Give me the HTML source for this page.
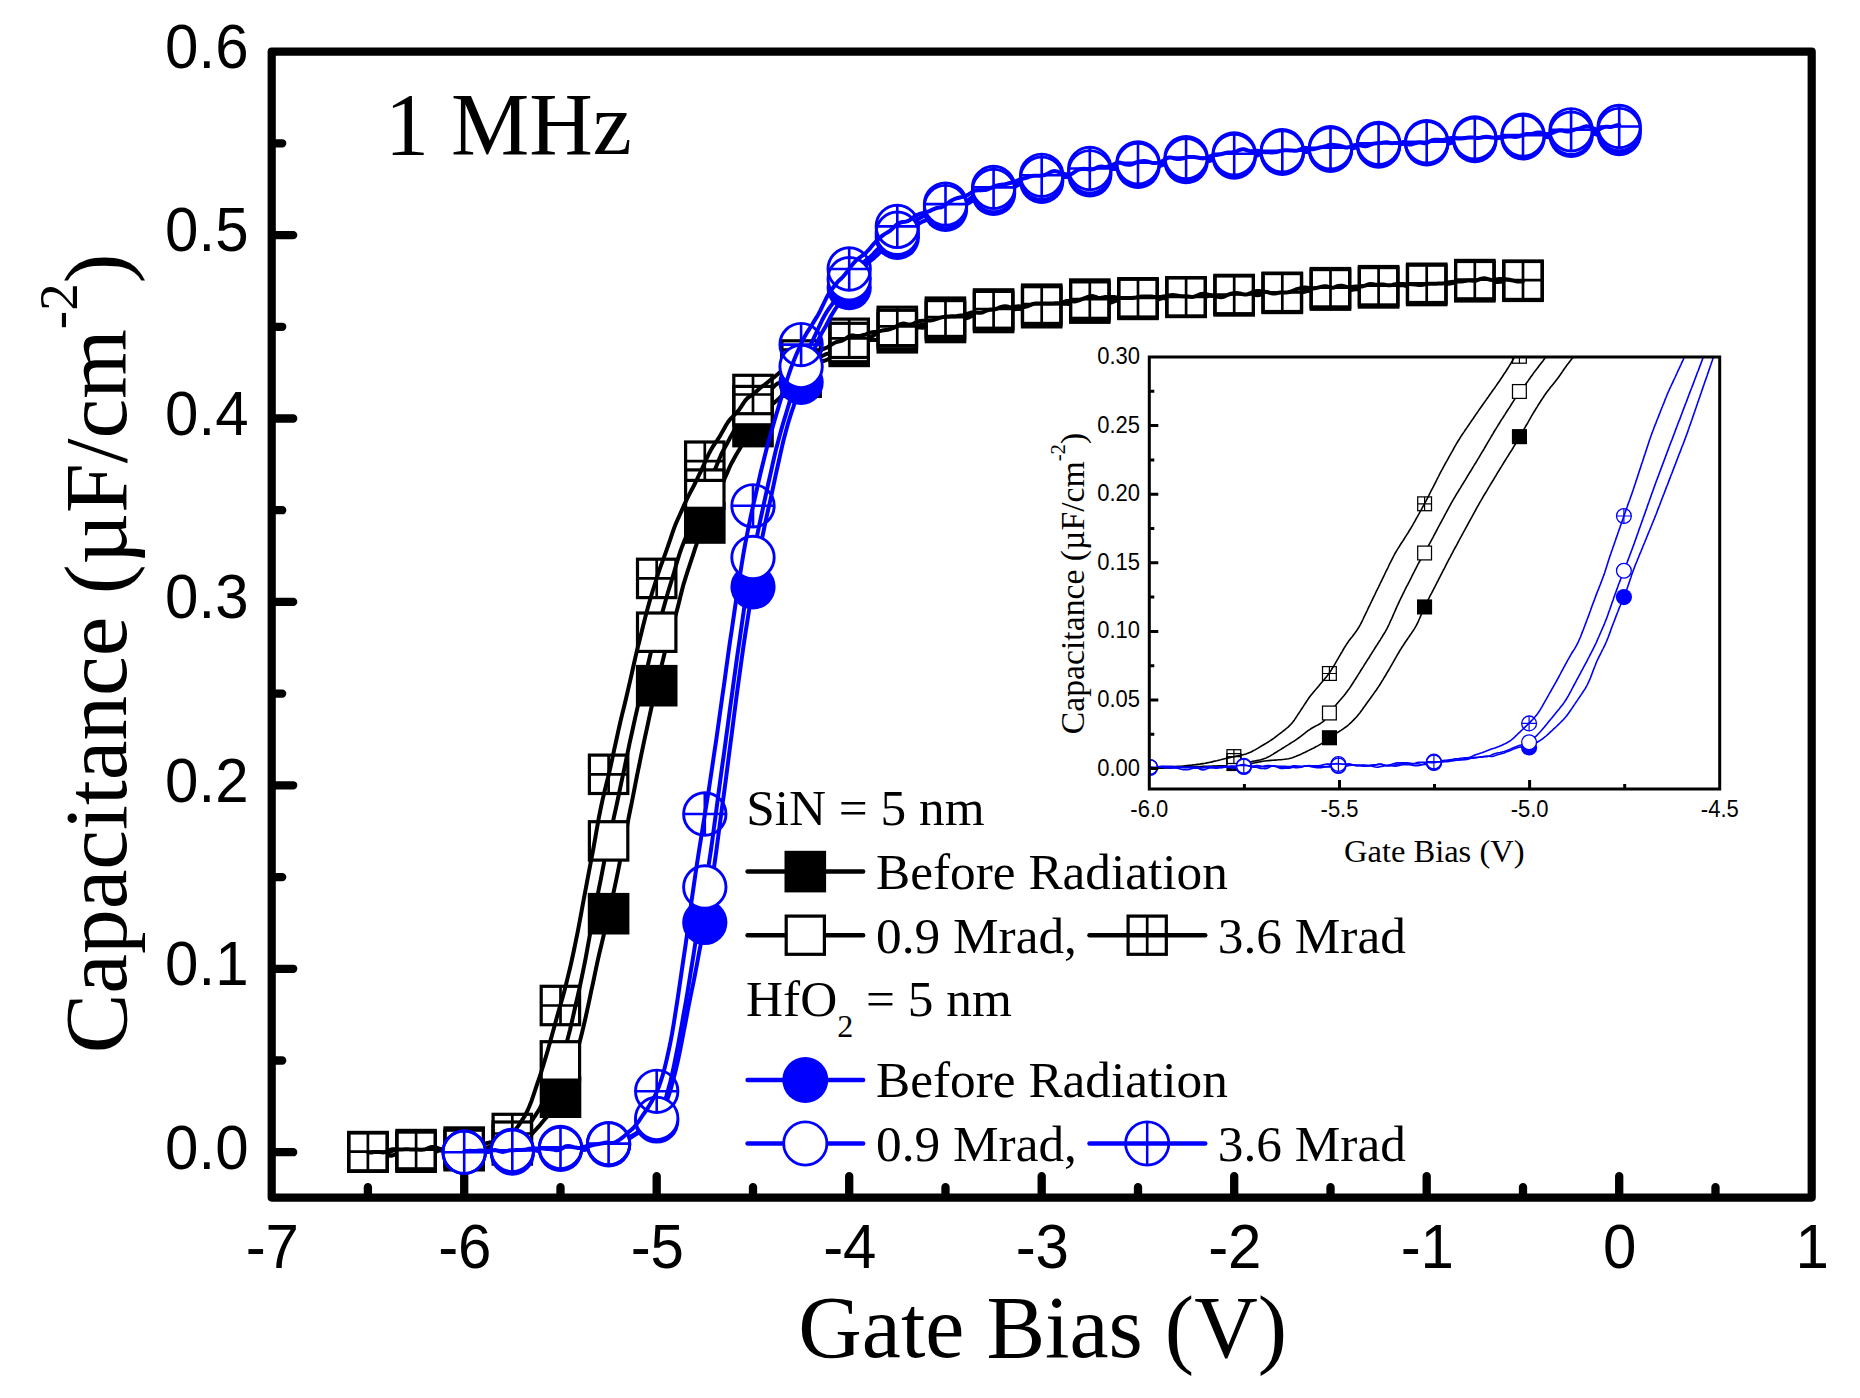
<!DOCTYPE html><html><head><meta charset="utf-8"><style>html,body{margin:0;padding:0;background:#fff;overflow:hidden}svg{display:block}.sans{font-family:"Liberation Sans",Arial,sans-serif}.serif{font-family:"Liberation Serif","Times New Roman",serif}</style></head><body>
<svg width="1860" height="1398" viewBox="0 0 1860 1398">
<rect width="1860" height="1398" fill="#fff"/>
<rect x="271.7" y="51.6" width="1540" height="1146" fill="none" stroke="#000" stroke-width="8.2" stroke-linejoin="round"/>
<path d="M464.2 1195V1176.1M656.7 1195V1176.1M849.2 1195V1176.1M1041.7 1195V1176.1M1234.2 1195V1176.1M1426.7 1195V1176.1M1619.2 1195V1176.1M367.9 1195V1187.1M560.5 1195V1187.1M753 1195V1187.1M945.5 1195V1187.1M1138 1195V1187.1M1330.5 1195V1187.1M1523 1195V1187.1M1715.5 1195V1187.1M274 1152.2H293.2M274 968.8H293.2M274 785.3H293.2M274 601.9H293.2M274 418.5H293.2M274 235.1H293.2M274 1060.5H282.2M274 877.1H282.2M274 693.6H282.2M274 510.2H282.2M274 326.8H282.2M274 143.3H282.2" stroke="#000" stroke-width="8.3" stroke-linecap="round"/>
<defs><clipPath id="cm"><rect x="271.7" y="51.6" width="1540" height="1146"/></clipPath><clipPath id="ci"><rect x="1149.3" y="357" width="570.4" height="432"/></clipPath></defs>
<g clip-path="url(#cm)">
<path d="M367.9 1151.3 L369.9 1151.8 L371.8 1152 L373.7 1152 L375.6 1151.9 L377.6 1151.7 L379.5 1151.7 L381.4 1151.8 L383.3 1152.1 L385.3 1152.4 L387.2 1152.6 L389.1 1152.3 L391 1151.5 L393 1150.5 L394.9 1149.8 L396.8 1149.5 L398.7 1149.8 L400.7 1150.4 L402.6 1150.9 L404.5 1151.1 L406.4 1151.1 L408.4 1150.8 L410.3 1150.5 L412.2 1150.2 L414.1 1150.1 L416.1 1150.1 L418 1150.2 L419.9 1150.4 L421.8 1150.9 L423.8 1151.8 L425.7 1152.8 L427.6 1153.7 L429.5 1154.1 L431.5 1154 L433.4 1153.3 L435.3 1152.3 L437.2 1151.2 L439.2 1150.5 L441.1 1150.4 L443 1150.8 L444.9 1151.6 L446.9 1152.3 L448.8 1152.6 L450.7 1152.4 L452.6 1152 L454.6 1151.5 L456.5 1151.3 L458.4 1151.3 L460.3 1151.5 L462.3 1151.7 L464.2 1151.9 L466.1 1152 L468 1152.1 L470 1152.2 L471.9 1152.1 L473.8 1151.6 L475.7 1151 L477.7 1150.3 L479.6 1149.8 L481.5 1149.3 L483.4 1149.1 L485.4 1149 L487.3 1148.9 L489.2 1148.8 L491.1 1148.5 L493.1 1147.8 L495 1146.8 L496.9 1145.6 L498.8 1144.6 L500.8 1144.2 L502.7 1144.2 L504.6 1144.4 L506.5 1144.6 L508.5 1144.7 L510.4 1144.7 L512.3 1144.6 L514.2 1144.4 L516.2 1144.1 L518.1 1143.7 L520 1143 L521.9 1141.9 L523.9 1140.5 L525.8 1139.1 L527.7 1137.7 L529.6 1136.2 L531.6 1134.3 L533.5 1132.2 L535.4 1130.1 L537.3 1128 L539.3 1125.9 L541.2 1123.6 L543.1 1121.3 L545 1119 L547 1116.8 L548.9 1114.5 L550.8 1112.1 L552.7 1109.5 L554.7 1106.7 L556.6 1103.6 L558.5 1100.4 L560.4 1097 L562.4 1093.2 L564.3 1088.9 L566.2 1084.4 L568.1 1079.6 L570.1 1074.4 L572 1068.6 L573.9 1062.2 L575.8 1055.5 L577.8 1048.7 L579.7 1041.8 L581.6 1034.4 L583.5 1026.5 L585.5 1018 L587.4 1009.2 L589.3 1000.3 L591.2 991.2 L593.2 982.1 L595.1 972.9 L597 963.9 L598.9 955.3 L600.9 947 L602.8 939 L604.7 930.9 L606.6 922.7 L608.6 914.6 L610.5 906.3 L612.4 897.8 L614.3 888.9 L616.3 879.7 L618.2 870.3 L620.1 860.7 L622 851.1 L624 841.5 L625.9 831.9 L627.8 822.2 L629.7 812.5 L631.7 802.8 L633.6 793.1 L635.5 783.4 L637.4 773.7 L639.4 764.1 L641.3 754.7 L643.2 745.7 L645.1 736.7 L647.1 727.6 L649 718.7 L650.9 710 L652.8 701.6 L654.8 693.5 L656.7 685.6 L658.6 677.6 L660.5 669.7 L662.5 661.7 L664.4 654 L666.3 646.7 L668.2 639.9 L670.2 633.6 L672.1 627.5 L674 621.1 L675.9 614.2 L677.9 606.7 L679.8 599 L681.7 591.3 L683.6 584.1 L685.6 577.6 L687.5 571.6 L689.4 565.9 L691.3 560.1 L693.3 554.1 L695.2 548.2 L697.1 542.6 L699 537.6 L701 532.9 L702.9 528.5 L704.8 524.1 L706.7 519.6 L708.7 514.7 L710.6 509.6 L712.5 504.5 L714.4 499.7 L716.4 495.4 L718.3 491.4 L720.2 487.6 L722.1 483.8 L724.1 479.8 L726 475.5 L727.9 471.1 L729.8 466.7 L731.8 462.7 L733.7 459.2 L735.6 455.8 L737.5 452.6 L739.5 449.2 L741.4 445.8 L743.3 442.4 L745.2 439 L747.2 435.7 L749.1 432.4 L751 429.2 L752.9 426.4 L754.9 423.9 L756.8 421.7 L758.7 419.5 L760.6 417 L762.6 414.4 L764.5 411.8 L766.4 409.5 L768.3 407.7 L770.3 406.1 L772.2 404.5 L774.1 402.8 L776 401.2 L778 399.5 L779.9 397.7 L781.8 395.4 L783.7 393 L785.7 390.5 L787.6 388.5 L789.5 387.1 L791.4 386.2 L793.4 385.5 L795.3 384.6 L797.2 383.4 L799.1 382.1 L801.1 380.7 L803 379.1 L804.9 377.3 L806.8 375.2 L808.8 372.8 L810.7 370.3 L812.6 367.9 L814.5 365.9 L816.5 364.3 L818.4 363 L820.3 362 L822.2 361.3 L824.2 360.8 L826.1 360.2 L828 359.3 L829.9 358.2 L831.9 356.8 L833.8 355.6 L835.7 354.4 L837.6 353.1 L839.6 351.8 L841.5 350.4 L843.4 349.1 L845.3 348.1 L847.3 347.3 L849.2 346.8 L851.1 346.5 L853 346.1 L855 345.6 L856.9 344.7 L858.8 343.5 L860.7 342.3 L862.7 341.2 L864.6 340.5 L866.5 340 L868.4 339.9 L870.4 339.8 L872.3 339.9 L874.2 340 L876.1 339.9 L878.1 339.6 L880 339 L881.9 338.3 L883.8 337.7 L885.8 336.9 L887.7 335.8 L889.6 334.4 L891.5 333 L893.5 331.8 L895.4 331.1 L897.3 330.9 L899.2 331.1 L901.2 331.3 L903.1 331.3 L905 330.9 L906.9 330.2 L908.9 329.5 L910.8 328.9 L912.7 328.4 L914.6 328 L916.6 327.6 L918.5 327.5 L920.4 327.6 L922.3 327.7 L924.3 327.6 L926.2 327.1 L928.1 326.3 L930 325.3 L932 324.2 L933.9 323.3 L935.8 322.5 L937.7 322 L939.7 321.9 L941.6 322.2 L943.5 322.7 L945.4 323 L947.4 323 L949.3 322.3 L951.2 321.2 L953.1 320 L955.1 319.2 L957 319.1 L958.9 319.3 L960.8 319.5 L962.8 319.3 L964.7 318.8 L966.6 318.2 L968.5 317.6 L970.5 316.7 L972.4 315.8 L974.3 314.9 L976.2 314.3 L978.2 313.9 L980.1 313.6 L982 313.3 L983.9 313.1 L985.9 313.2 L987.8 313.5 L989.7 313.5 L991.6 312.9 L993.6 311.9 L995.5 310.9 L997.4 310.2 L999.3 310.1 L1001.3 310.3 L1003.2 310.6 L1005.1 310.9 L1007 311.1 L1009 310.9 L1010.9 310.3 L1012.8 309.4 L1014.7 308.7 L1016.7 308.4 L1018.6 308.7 L1020.5 309.1 L1022.4 309.5 L1024.4 309.5 L1026.3 309.3 L1028.2 309 L1030.1 308.8 L1032.1 308.8 L1034 308.8 L1035.9 308.9 L1037.8 309 L1039.8 309 L1041.7 308.9 L1043.6 308.5 L1045.5 308 L1047.5 307.5 L1049.4 307.1 L1051.3 306.8 L1053.2 306.4 L1055.2 305.8 L1057.1 305 L1059 304.3 L1060.9 303.8 L1062.9 303.4 L1064.8 303.2 L1066.7 303 L1068.6 302.9 L1070.6 303 L1072.5 303.2 L1074.4 303.3 L1076.3 303.2 L1078.3 302.8 L1080.2 302.4 L1082.1 302 L1084 302 L1086 302.5 L1087.9 303.5 L1089.8 304.3 L1091.7 304.6 L1093.7 304.3 L1095.6 303.6 L1097.5 303.1 L1099.4 302.9 L1101.4 302.9 L1103.3 302.9 L1105.2 302.9 L1107.1 302.9 L1109.1 302.9 L1111 302.6 L1112.9 301.9 L1114.8 301.1 L1116.8 300.5 L1118.7 300.4 L1120.6 300.7 L1122.5 301.3 L1124.5 301.7 L1126.4 301.7 L1128.3 301.4 L1130.2 300.9 L1132.2 300.4 L1134.1 300.1 L1136 299.8 L1137.9 299.3 L1139.9 298.6 L1141.8 297.9 L1143.7 297.4 L1145.6 297.2 L1147.6 297.6 L1149.5 298.3 L1151.4 299.1 L1153.3 299.7 L1155.3 299.9 L1157.2 299.7 L1159.1 299.2 L1161 298.6 L1163 298 L1164.9 297.6 L1166.8 297.5 L1168.7 297.7 L1170.7 298.3 L1172.6 299.2 L1174.5 299.8 L1176.4 300.1 L1178.4 300 L1180.3 299.4 L1182.2 298.8 L1184.1 298.2 L1186.1 297.9 L1188 297.8 L1189.9 297.9 L1191.8 298.1 L1193.8 298.2 L1195.7 298.1 L1197.6 298 L1199.5 297.9 L1201.5 297.7 L1203.4 297.4 L1205.3 297 L1207.2 296.4 L1209.2 295.8 L1211.1 295.5 L1213 295.5 L1214.9 295.7 L1216.9 296 L1218.8 296 L1220.7 295.9 L1222.6 296 L1224.6 296.3 L1226.5 296.5 L1228.4 296.5 L1230.3 296 L1232.3 295.3 L1234.2 294.7 L1236.1 294.3 L1238 294.4 L1240 294.7 L1241.9 295.2 L1243.8 295.4 L1245.7 295.3 L1247.7 294.9 L1249.6 294.5 L1251.5 294.5 L1253.4 294.8 L1255.4 295.1 L1257.3 295.2 L1259.2 295 L1261.1 294.6 L1263.1 294.4 L1265 294.3 L1266.9 294.3 L1268.8 294.4 L1270.8 294.4 L1272.7 294.4 L1274.6 294.4 L1276.5 294.3 L1278.5 294.1 L1280.4 293.9 L1282.3 293.7 L1284.2 293.5 L1286.2 293.2 L1288.1 293 L1290 292.8 L1291.9 292.7 L1293.9 292.7 L1295.8 292.6 L1297.7 292.6 L1299.6 292.6 L1301.6 292.4 L1303.5 292.1 L1305.4 291.6 L1307.3 291.1 L1309.3 290.6 L1311.2 290.3 L1313.1 290.3 L1315 290.5 L1317 290.9 L1318.9 291.1 L1320.8 290.8 L1322.7 290.1 L1324.7 289.3 L1326.6 288.8 L1328.5 288.7 L1330.4 288.8 L1332.4 289 L1334.3 288.9 L1336.2 288.8 L1338.1 288.7 L1340.1 289 L1342 289.6 L1343.9 290.1 L1345.8 290.2 L1347.8 290.2 L1349.7 290 L1351.6 289.9 L1353.5 289.6 L1355.5 289.3 L1357.4 289.3 L1359.3 289.6 L1361.2 290 L1363.2 290.3 L1365.1 290 L1367 289.4 L1368.9 288.7 L1370.9 288.4 L1372.8 288.4 L1374.7 288.6 L1376.6 288.8 L1378.6 288.6 L1380.5 288.1 L1382.4 287.1 L1384.3 286 L1386.3 285.2 L1388.2 284.7 L1390.1 284.8 L1392 285.1 L1394 285.5 L1395.9 285.7 L1397.8 285.5 L1399.7 285.3 L1401.7 285.1 L1403.6 285.3 L1405.5 285.6 L1407.4 285.9 L1409.4 286.1 L1411.3 286.3 L1413.2 286.4 L1415.1 286.4 L1417.1 286.3 L1419 286.2 L1420.9 286.1 L1422.8 285.9 L1424.8 285.7 L1426.7 285.7 L1428.6 286 L1430.5 286.2 L1432.5 286.1 L1434.4 285.6 L1436.3 284.9 L1438.2 284.3 L1440.2 283.9 L1442.1 283.8 L1444 283.8 L1445.9 283.8 L1447.9 283.8 L1449.8 283.6 L1451.7 283.2 L1453.6 282.8 L1455.6 282.8 L1457.5 283.2 L1459.4 284.1 L1461.3 284.9 L1463.3 285.2 L1465.2 284.9 L1467.1 284.1 L1469 283.2 L1471 282.6 L1472.9 282.4 L1474.8 282.7 L1476.7 283.1 L1478.7 283.3 L1480.6 283.3 L1482.5 283.2 L1484.4 282.9 L1486.4 282.6 L1488.3 282.2 L1490.2 281.8 L1492.1 281.7 L1494.1 281.8 L1496 281.9 L1497.9 282 L1499.8 281.8 L1501.8 281.7 L1503.7 281.6 L1505.6 281.7 L1507.5 281.9 L1509.5 282.3 L1511.4 282.7 L1513.3 283.2 L1515.2 283.6 L1517.2 283.8 L1519.1 283.7 L1521 283.3 L1522.9 282.7" fill="none" stroke="#000" stroke-width="4" stroke-linejoin="round" stroke-linecap="round"/>
<rect x="347.1" y="1131.4" width="41.6" height="41.6" fill="#000"/>
<rect x="395.3" y="1131.4" width="41.6" height="41.6" fill="#000"/>
<rect x="443.4" y="1129.9" width="41.6" height="41.6" fill="#000"/>
<rect x="491.5" y="1124.1" width="41.6" height="41.6" fill="#000"/>
<rect x="539.7" y="1076.4" width="41.6" height="41.6" fill="#000"/>
<rect x="587.8" y="892.9" width="41.6" height="41.6" fill="#000"/>
<rect x="635.9" y="664.9" width="41.6" height="41.6" fill="#000"/>
<rect x="684" y="502.2" width="41.6" height="41.6" fill="#000"/>
<rect x="732.2" y="405.8" width="41.6" height="41.6" fill="#000"/>
<rect x="780.3" y="356.4" width="41.6" height="41.6" fill="#000"/>
<rect x="828.4" y="325.6" width="41.6" height="41.6" fill="#000"/>
<rect x="876.5" y="312" width="41.6" height="41.6" fill="#000"/>
<rect x="924.7" y="301.7" width="41.6" height="41.6" fill="#000"/>
<rect x="972.8" y="291.7" width="41.6" height="41.6" fill="#000"/>
<rect x="1020.9" y="286.9" width="41.6" height="41.6" fill="#000"/>
<rect x="1069" y="282.3" width="41.6" height="41.6" fill="#000"/>
<rect x="1117.2" y="278.6" width="41.6" height="41.6" fill="#000"/>
<rect x="1165.3" y="276.6" width="41.6" height="41.6" fill="#000"/>
<rect x="1213.4" y="275.1" width="41.6" height="41.6" fill="#000"/>
<rect x="1261.5" y="272.6" width="41.6" height="41.6" fill="#000"/>
<rect x="1309.7" y="269.3" width="41.6" height="41.6" fill="#000"/>
<rect x="1357.8" y="267.1" width="41.6" height="41.6" fill="#000"/>
<rect x="1405.9" y="264.7" width="41.6" height="41.6" fill="#000"/>
<rect x="1454" y="261" width="41.6" height="41.6" fill="#000"/>
<rect x="1502.2" y="260.5" width="41.6" height="41.6" fill="#000"/>
<path d="M367.9 1152.5 L369.9 1152.9 L371.8 1153.3 L373.7 1153.5 L375.6 1153.3 L377.6 1152.9 L379.5 1152.5 L381.4 1152.4 L383.3 1152.7 L385.3 1153.5 L387.2 1154.5 L389.1 1155.4 L391 1155.7 L393 1155.3 L394.9 1154.5 L396.8 1153.6 L398.7 1152.6 L400.7 1151.7 L402.6 1150.7 L404.5 1149.8 L406.4 1149.3 L408.4 1149.4 L410.3 1149.9 L412.2 1150.7 L414.1 1151.2 L416.1 1151.2 L418 1150.9 L419.9 1150.5 L421.8 1150.2 L423.8 1150.1 L425.7 1149.9 L427.6 1149.6 L429.5 1149.4 L431.5 1149.4 L433.4 1149.6 L435.3 1149.7 L437.2 1149.6 L439.2 1149.4 L441.1 1149.2 L443 1148.9 L444.9 1148.8 L446.9 1149 L448.8 1149.6 L450.7 1150.3 L452.6 1150.8 L454.6 1151 L456.5 1150.9 L458.4 1150.8 L460.3 1150.7 L462.3 1150.6 L464.2 1150.4 L466.1 1150.1 L468 1149.7 L470 1149.4 L471.9 1149.2 L473.8 1149 L475.7 1148.7 L477.7 1148.3 L479.6 1148.1 L481.5 1148 L483.4 1148 L485.4 1147.9 L487.3 1147.5 L489.2 1146.8 L491.1 1146 L493.1 1145.2 L495 1144.5 L496.9 1144 L498.8 1143.5 L500.8 1142.8 L502.7 1142.1 L504.6 1141.6 L506.5 1141.4 L508.5 1141.5 L510.4 1141.7 L512.3 1141.5 L514.2 1140.9 L516.2 1139.9 L518.1 1138.5 L520 1136.9 L521.9 1134.8 L523.9 1132.3 L525.8 1129.4 L527.7 1126.6 L529.6 1123.9 L531.6 1121.1 L533.5 1118.2 L535.4 1115.3 L537.3 1112.4 L539.3 1109.3 L541.2 1105.7 L543.1 1101.5 L545 1096.9 L547 1092.1 L548.9 1087.6 L550.8 1083.1 L552.7 1078.7 L554.7 1074 L556.6 1069.1 L558.5 1064.1 L560.4 1059.5 L562.4 1054.9 L564.3 1049.9 L566.2 1044 L568.1 1037.2 L570.1 1029.5 L572 1021.3 L573.9 1012.8 L575.8 1004.2 L577.8 995.7 L579.7 987.1 L581.6 978.2 L583.5 968.9 L585.5 959 L587.4 948.6 L589.3 938.1 L591.2 927.6 L593.2 917.3 L595.1 907.5 L597 898.1 L598.9 888.6 L600.9 878.8 L602.8 868.8 L604.7 859.1 L606.6 849.8 L608.6 841.1 L610.5 832.7 L612.4 824.1 L614.3 815.4 L616.3 806.5 L618.2 797.5 L620.1 788.4 L622 779.3 L624 770.2 L625.9 761 L627.8 751.8 L629.7 742.7 L631.7 733.7 L633.6 725 L635.5 716.4 L637.4 708.1 L639.4 699.9 L641.3 692.1 L643.2 684.5 L645.1 676.6 L647.1 668.5 L649 660.3 L650.9 652.3 L652.8 645 L654.8 638.3 L656.7 631.9 L658.6 625.5 L660.5 618.8 L662.5 611.9 L664.4 605 L666.3 598.2 L668.2 591.5 L670.2 585.2 L672.1 578.9 L674 572.5 L675.9 565.8 L677.9 559.1 L679.8 553 L681.7 547.7 L683.6 542.7 L685.6 537.7 L687.5 532.6 L689.4 527.6 L691.3 522.7 L693.3 517.9 L695.2 513.1 L697.1 508.2 L699 503.3 L701 498.4 L702.9 493.8 L704.8 489.5 L706.7 485.5 L708.7 481.8 L710.6 478.3 L712.5 474.7 L714.4 470.6 L716.4 466.1 L718.3 461.3 L720.2 456.8 L722.1 452.6 L724.1 448.9 L726 445.5 L727.9 442 L729.8 438.3 L731.8 434.7 L733.7 431.3 L735.6 428.3 L737.5 425.4 L739.5 422.3 L741.4 419.1 L743.3 416.1 L745.2 413.6 L747.2 411.7 L749.1 410.2 L751 408.7 L752.9 406.9 L754.9 404.7 L756.8 402.1 L758.7 399.4 L760.6 397 L762.6 395.2 L764.5 394 L766.4 392.9 L768.3 391.7 L770.3 390.2 L772.2 388.4 L774.1 386.4 L776 384.6 L778 383.3 L779.9 382.7 L781.8 382.4 L783.7 381.9 L785.7 381.1 L787.6 379.7 L789.5 377.8 L791.4 375.8 L793.4 373.8 L795.3 372.2 L797.2 371 L799.1 370.3 L801.1 369.5 L803 368.5 L804.9 367.1 L806.8 365.6 L808.8 364.1 L810.7 362.8 L812.6 361.5 L814.5 360.4 L816.5 359.3 L818.4 358.2 L820.3 357 L822.2 355.9 L824.2 355 L826.1 354.2 L828 353.6 L829.9 353 L831.9 352.3 L833.8 351.6 L835.7 350.6 L837.6 349.3 L839.6 347.9 L841.5 346.5 L843.4 345.2 L845.3 344 L847.3 342.7 L849.2 341.6 L851.1 341.1 L853 341.1 L855 341.5 L856.9 341.8 L858.8 341.6 L860.7 341 L862.7 340.2 L864.6 339.4 L866.5 338.7 L868.4 338.1 L870.4 337.3 L872.3 336.3 L874.2 335.1 L876.1 333.8 L878.1 332.7 L880 332.1 L881.9 332.2 L883.8 332.7 L885.8 333.2 L887.7 333.1 L889.6 332.3 L891.5 331.2 L893.5 330.2 L895.4 329.4 L897.3 328.7 L899.2 328 L901.2 327.6 L903.1 327.4 L905 327.3 L906.9 327.1 L908.9 326.6 L910.8 326.2 L912.7 325.9 L914.6 325.8 L916.6 325.7 L918.5 325.4 L920.4 325.1 L922.3 324.8 L924.3 324.7 L926.2 324.5 L928.1 324.2 L930 324 L932 324 L933.9 324.1 L935.8 324.2 L937.7 324 L939.7 323.5 L941.6 322.7 L943.5 321.8 L945.4 320.8 L947.4 319.9 L949.3 319.1 L951.2 318.4 L953.1 317.4 L955.1 316.5 L957 315.7 L958.9 315.4 L960.8 315.5 L962.8 315.8 L964.7 315.9 L966.6 315.9 L968.5 315.8 L970.5 315.5 L972.4 315 L974.3 314.3 L976.2 313.7 L978.2 313.1 L980.1 312.4 L982 311.8 L983.9 311.2 L985.9 310.7 L987.8 310.4 L989.7 310.1 L991.6 309.8 L993.6 309.4 L995.5 309.1 L997.4 308.8 L999.3 308.9 L1001.3 309.1 L1003.2 309.2 L1005.1 309.2 L1007 309.1 L1009 309 L1010.9 309 L1012.8 309.1 L1014.7 309.2 L1016.7 309 L1018.6 308.5 L1020.5 307.6 L1022.4 306.4 L1024.4 305.3 L1026.3 304.6 L1028.2 304.7 L1030.1 305.5 L1032.1 306.7 L1034 307.5 L1035.9 307.7 L1037.8 307.3 L1039.8 306.6 L1041.7 306 L1043.6 305.7 L1045.5 305.7 L1047.5 305.9 L1049.4 306 L1051.3 305.7 L1053.2 305.1 L1055.2 304.5 L1057.1 304 L1059 303.7 L1060.9 303.6 L1062.9 303.6 L1064.8 303.7 L1066.7 303.8 L1068.6 303.9 L1070.6 303.9 L1072.5 303.8 L1074.4 303.7 L1076.3 303.9 L1078.3 304.1 L1080.2 304.4 L1082.1 304.4 L1084 304.2 L1086 303.8 L1087.9 303.5 L1089.8 303.1 L1091.7 302.5 L1093.7 301.4 L1095.6 300.3 L1097.5 299.6 L1099.4 299.4 L1101.4 299.4 L1103.3 299.3 L1105.2 299.2 L1107.1 299.2 L1109.1 299.1 L1111 299 L1112.9 298.8 L1114.8 298.7 L1116.8 298.5 L1118.7 298.5 L1120.6 298.5 L1122.5 298.6 L1124.5 298.8 L1126.4 298.8 L1128.3 298.8 L1130.2 298.6 L1132.2 298.2 L1134.1 297.7 L1136 297 L1137.9 296.2 L1139.9 295.6 L1141.8 295.5 L1143.7 296 L1145.6 296.6 L1147.6 297.1 L1149.5 297.5 L1151.4 297.7 L1153.3 297.9 L1155.3 297.7 L1157.2 297.3 L1159.1 297.1 L1161 297.3 L1163 297.9 L1164.9 298.4 L1166.8 298.5 L1168.7 298.2 L1170.7 297.7 L1172.6 297.1 L1174.5 296.4 L1176.4 295.9 L1178.4 295.7 L1180.3 296 L1182.2 296.6 L1184.1 297 L1186.1 297 L1188 296.6 L1189.9 296 L1191.8 295.2 L1193.8 294.6 L1195.7 294.4 L1197.6 294.6 L1199.5 295 L1201.5 295.3 L1203.4 295.4 L1205.3 295.2 L1207.2 295.2 L1209.2 295.3 L1211.1 295.7 L1213 296 L1214.9 296.3 L1216.9 296.4 L1218.8 296.3 L1220.7 296.1 L1222.6 295.6 L1224.6 295.1 L1226.5 294.7 L1228.4 294.7 L1230.3 294.9 L1232.3 295.4 L1234.2 295.9 L1236.1 296.1 L1238 295.8 L1240 295.3 L1241.9 294.9 L1243.8 294.9 L1245.7 295.3 L1247.7 295.7 L1249.6 295.9 L1251.5 295.6 L1253.4 295 L1255.4 294.4 L1257.3 294 L1259.2 294 L1261.1 294.1 L1263.1 294.1 L1265 293.8 L1266.9 293.2 L1268.8 292.4 L1270.8 291.8 L1272.7 291.4 L1274.6 291.2 L1276.5 291 L1278.5 290.9 L1280.4 290.8 L1282.3 290.9 L1284.2 291.1 L1286.2 291.2 L1288.1 291 L1290 290.7 L1291.9 290.4 L1293.9 290.2 L1295.8 290.1 L1297.7 290 L1299.6 289.9 L1301.6 289.9 L1303.5 290.1 L1305.4 290.4 L1307.3 290.5 L1309.3 290.3 L1311.2 289.9 L1313.1 289.5 L1315 289 L1317 288.5 L1318.9 287.9 L1320.8 287.7 L1322.7 287.9 L1324.7 288.3 L1326.6 288.5 L1328.5 288.6 L1330.4 288.8 L1332.4 289.3 L1334.3 290.1 L1336.2 290.7 L1338.1 290.7 L1340.1 289.9 L1342 288.9 L1343.9 288.3 L1345.8 288.1 L1347.8 288.3 L1349.7 288.4 L1351.6 288.5 L1353.5 288.4 L1355.5 288.1 L1357.4 287.5 L1359.3 286.7 L1361.2 286.3 L1363.2 286.3 L1365.1 286.7 L1367 286.9 L1368.9 287 L1370.9 287 L1372.8 287 L1374.7 286.8 L1376.6 286.6 L1378.6 286.4 L1380.5 286.3 L1382.4 286.2 L1384.3 286 L1386.3 285.4 L1388.2 284.7 L1390.1 284.1 L1392 283.8 L1394 283.7 L1395.9 283.6 L1397.8 283.7 L1399.7 283.9 L1401.7 284.4 L1403.6 284.9 L1405.5 285.6 L1407.4 286.1 L1409.4 286.3 L1411.3 286 L1413.2 285.5 L1415.1 285.1 L1417.1 285 L1419 285.1 L1420.9 285.3 L1422.8 285.3 L1424.8 285 L1426.7 284.4 L1428.6 283.7 L1430.5 283.1 L1432.5 282.9 L1434.4 282.9 L1436.3 283 L1438.2 283 L1440.2 283.1 L1442.1 283.1 L1444 283.2 L1445.9 283.1 L1447.9 283 L1449.8 282.7 L1451.7 282.5 L1453.6 282.1 L1455.6 281.5 L1457.5 281 L1459.4 280.5 L1461.3 280.4 L1463.3 280.5 L1465.2 280.7 L1467.1 281 L1469 281.1 L1471 280.9 L1472.9 280.4 L1474.8 279.8 L1476.7 279.2 L1478.7 279.1 L1480.6 279.5 L1482.5 280.3 L1484.4 281.2 L1486.4 281.6 L1488.3 281.5 L1490.2 281.3 L1492.1 281.4 L1494.1 281.6 L1496 281.6 L1497.9 281.2 L1499.8 280.5 L1501.8 279.8 L1503.7 279.5 L1505.6 279.8 L1507.5 280.3 L1509.5 280.9 L1511.4 281.4 L1513.3 281.6 L1515.2 281.7 L1517.2 281.8 L1519.1 281.9 L1521 282 L1522.9 282.2" fill="none" stroke="#000" stroke-width="4" stroke-linejoin="round" stroke-linecap="round"/>
<rect x="348.8" y="1133" width="38.4" height="38.4" fill="#fff" stroke="#000" stroke-width="3.2"/>
<rect x="396.9" y="1132.1" width="38.4" height="38.4" fill="#fff" stroke="#000" stroke-width="3.2"/>
<rect x="445" y="1130.2" width="38.4" height="38.4" fill="#fff" stroke="#000" stroke-width="3.2"/>
<rect x="493.1" y="1122" width="38.4" height="38.4" fill="#fff" stroke="#000" stroke-width="3.2"/>
<rect x="541.2" y="1041.7" width="38.4" height="38.4" fill="#fff" stroke="#000" stroke-width="3.2"/>
<rect x="589.4" y="821.7" width="38.4" height="38.4" fill="#fff" stroke="#000" stroke-width="3.2"/>
<rect x="637.5" y="613" width="38.4" height="38.4" fill="#fff" stroke="#000" stroke-width="3.2"/>
<rect x="685.6" y="469.9" width="38.4" height="38.4" fill="#fff" stroke="#000" stroke-width="3.2"/>
<rect x="733.8" y="386.4" width="38.4" height="38.4" fill="#fff" stroke="#000" stroke-width="3.2"/>
<rect x="781.9" y="349.8" width="38.4" height="38.4" fill="#fff" stroke="#000" stroke-width="3.2"/>
<rect x="830" y="323.3" width="38.4" height="38.4" fill="#fff" stroke="#000" stroke-width="3.2"/>
<rect x="878.1" y="310.3" width="38.4" height="38.4" fill="#fff" stroke="#000" stroke-width="3.2"/>
<rect x="926.2" y="300.6" width="38.4" height="38.4" fill="#fff" stroke="#000" stroke-width="3.2"/>
<rect x="974.4" y="291.4" width="38.4" height="38.4" fill="#fff" stroke="#000" stroke-width="3.2"/>
<rect x="1022.5" y="286.7" width="38.4" height="38.4" fill="#fff" stroke="#000" stroke-width="3.2"/>
<rect x="1070.6" y="281.9" width="38.4" height="38.4" fill="#fff" stroke="#000" stroke-width="3.2"/>
<rect x="1118.8" y="279.3" width="38.4" height="38.4" fill="#fff" stroke="#000" stroke-width="3.2"/>
<rect x="1166.9" y="277.8" width="38.4" height="38.4" fill="#fff" stroke="#000" stroke-width="3.2"/>
<rect x="1215" y="276" width="38.4" height="38.4" fill="#fff" stroke="#000" stroke-width="3.2"/>
<rect x="1263.1" y="273.6" width="38.4" height="38.4" fill="#fff" stroke="#000" stroke-width="3.2"/>
<rect x="1311.2" y="269.6" width="38.4" height="38.4" fill="#fff" stroke="#000" stroke-width="3.2"/>
<rect x="1359.4" y="267.6" width="38.4" height="38.4" fill="#fff" stroke="#000" stroke-width="3.2"/>
<rect x="1407.5" y="265.2" width="38.4" height="38.4" fill="#fff" stroke="#000" stroke-width="3.2"/>
<rect x="1455.6" y="261.5" width="38.4" height="38.4" fill="#fff" stroke="#000" stroke-width="3.2"/>
<rect x="1503.8" y="261.5" width="38.4" height="38.4" fill="#fff" stroke="#000" stroke-width="3.2"/>
<path d="M367.9 1152.4 L369.9 1152.6 L371.8 1152.4 L373.7 1152.1 L375.6 1151.9 L377.6 1151.9 L379.5 1152.1 L381.4 1152.3 L383.3 1152.4 L385.3 1152.1 L387.2 1151.3 L389.1 1150.3 L391 1149.5 L393 1149.2 L394.9 1149.2 L396.8 1149.3 L398.7 1149.5 L400.7 1149.5 L402.6 1149.4 L404.5 1149.3 L406.4 1149.2 L408.4 1149.3 L410.3 1149.4 L412.2 1149.6 L414.1 1149.6 L416.1 1149.6 L418 1149.6 L419.9 1149.7 L421.8 1149.7 L423.8 1149.6 L425.7 1149.1 L427.6 1148.4 L429.5 1147.6 L431.5 1147 L433.4 1146.9 L435.3 1147.2 L437.2 1147.8 L439.2 1148.6 L441.1 1149.6 L443 1150.5 L444.9 1151 L446.9 1151.2 L448.8 1150.9 L450.7 1150.3 L452.6 1149.4 L454.6 1148.6 L456.5 1147.9 L458.4 1147.5 L460.3 1147.2 L462.3 1147 L464.2 1146.8 L466.1 1146.6 L468 1146.5 L470 1146.5 L471.9 1146.7 L473.8 1147.1 L475.7 1147.3 L477.7 1147.1 L479.6 1146.4 L481.5 1145.5 L483.4 1144.6 L485.4 1143.6 L487.3 1143 L489.2 1142.6 L491.1 1142.3 L493.1 1142 L495 1141.3 L496.9 1140.1 L498.8 1138.5 L500.8 1136.7 L502.7 1135.1 L504.6 1134 L506.5 1133.4 L508.5 1133.1 L510.4 1132.8 L512.3 1132.1 L514.2 1130.8 L516.2 1128.7 L518.1 1126.1 L520 1123.3 L521.9 1120.4 L523.9 1117.4 L525.8 1114 L527.7 1110.2 L529.6 1105.8 L531.6 1100.7 L533.5 1095.2 L535.4 1089.4 L537.3 1083.6 L539.3 1077.9 L541.2 1072.1 L543.1 1066 L545 1059.6 L547 1053 L548.9 1046.3 L550.8 1039.4 L552.7 1032.4 L554.7 1025.3 L556.6 1018.3 L558.5 1011.6 L560.4 1005 L562.4 998.3 L564.3 991.2 L566.2 983.7 L568.1 975.9 L570.1 967.7 L572 959.3 L573.9 950.5 L575.8 941.2 L577.8 931.4 L579.7 921.4 L581.6 911.1 L583.5 900.7 L585.5 890.2 L587.4 879.9 L589.3 869.8 L591.2 859.8 L593.2 849.5 L595.1 838.9 L597 828 L598.9 817.4 L600.9 807.5 L602.8 798.6 L604.7 790.7 L606.6 783 L608.6 775.2 L610.5 767 L612.4 758.2 L614.3 749.2 L616.3 740.2 L618.2 731.4 L620.1 723 L622 714.9 L624 706.9 L625.9 699 L627.8 690.9 L629.7 682.6 L631.7 674 L633.6 665.3 L635.5 656.9 L637.4 648.8 L639.4 641 L641.3 633.3 L643.2 625.5 L645.1 617.9 L647.1 610.5 L649 603.5 L650.9 596.9 L652.8 590.5 L654.8 584.3 L656.7 578.2 L658.6 572.3 L660.5 566.7 L662.5 561.4 L664.4 556.1 L666.3 550.8 L668.2 545.3 L670.2 539.7 L672.1 533.9 L674 528.4 L675.9 523.5 L677.9 519 L679.8 514.8 L681.7 510.6 L683.6 506.2 L685.6 501.9 L687.5 497.9 L689.4 494.1 L691.3 490.5 L693.3 486.8 L695.2 483 L697.1 479.2 L699 475.2 L701 471.1 L702.9 466.9 L704.8 462.6 L706.7 458.3 L708.7 454.2 L710.6 450.5 L712.5 447.2 L714.4 444.3 L716.4 441.5 L718.3 438.7 L720.2 435.6 L722.1 432.3 L724.1 428.8 L726 425.3 L727.9 422.3 L729.8 419.7 L731.8 417.6 L733.7 415.6 L735.6 413.7 L737.5 411.6 L739.5 409.2 L741.4 406.4 L743.3 403.4 L745.2 400.6 L747.2 398.4 L749.1 396.9 L751 395.7 L752.9 394.4 L754.9 392.9 L756.8 391 L758.7 389.2 L760.6 387.5 L762.6 386.1 L764.5 384.8 L766.4 383.3 L768.3 381.7 L770.3 380.1 L772.2 378.6 L774.1 377.1 L776 375.6 L778 373.9 L779.9 372.2 L781.8 370.6 L783.7 369.2 L785.7 368 L787.6 367.2 L789.5 366.5 L791.4 365.6 L793.4 364.6 L795.3 363.4 L797.2 362.1 L799.1 360.8 L801.1 359.5 L803 358.3 L804.9 357.4 L806.8 356.8 L808.8 356.4 L810.7 355.8 L812.6 355.1 L814.5 354.2 L816.5 353.3 L818.4 352.1 L820.3 350.7 L822.2 349.5 L824.2 348.6 L826.1 347.9 L828 346.9 L829.9 345.7 L831.9 344.3 L833.8 343.2 L835.7 342.3 L837.6 341.7 L839.6 341.3 L841.5 340.8 L843.4 340 L845.3 338.8 L847.3 337.4 L849.2 336.3 L851.1 335.6 L853 335.5 L855 335.8 L856.9 336 L858.8 336 L860.7 335.8 L862.7 335.3 L864.6 334.8 L866.5 334.1 L868.4 333.3 L870.4 332.7 L872.3 332.2 L874.2 331.9 L876.1 331.7 L878.1 331.4 L880 331 L881.9 330.6 L883.8 330.3 L885.8 330 L887.7 329.7 L889.6 329.3 L891.5 328.7 L893.5 327.9 L895.4 326.9 L897.3 325.7 L899.2 324.7 L901.2 323.9 L903.1 323.6 L905 323.8 L906.9 324.3 L908.9 324.6 L910.8 324.6 L912.7 324 L914.6 323.1 L916.6 322.1 L918.5 321.3 L920.4 320.9 L922.3 320.8 L924.3 320.7 L926.2 320.7 L928.1 320.6 L930 320.4 L932 320.2 L933.9 319.8 L935.8 319.2 L937.7 318.5 L939.7 317.9 L941.6 317.4 L943.5 317 L945.4 316.8 L947.4 316.5 L949.3 316.4 L951.2 316.3 L953.1 316.3 L955.1 316.2 L957 316 L958.9 315.7 L960.8 315.4 L962.8 315.2 L964.7 314.8 L966.6 314.2 L968.5 313.5 L970.5 312.8 L972.4 312.4 L974.3 312.2 L976.2 312.4 L978.2 312.7 L980.1 312.8 L982 312.5 L983.9 311.8 L985.9 310.9 L987.8 310.2 L989.7 309.8 L991.6 309.7 L993.6 309.6 L995.5 309.2 L997.4 308.5 L999.3 307.7 L1001.3 306.9 L1003.2 306.4 L1005.1 306.2 L1007 306.5 L1009 307 L1010.9 307.3 L1012.8 307.2 L1014.7 306.8 L1016.7 306.4 L1018.6 306.3 L1020.5 306.4 L1022.4 306.7 L1024.4 306.9 L1026.3 306.6 L1028.2 306 L1030.1 305.1 L1032.1 304.3 L1034 303.8 L1035.9 303.6 L1037.8 303.5 L1039.8 303.4 L1041.7 303.4 L1043.6 303.4 L1045.5 303.5 L1047.5 303.5 L1049.4 303.6 L1051.3 303.5 L1053.2 303.4 L1055.2 303.3 L1057.1 303.3 L1059 303.3 L1060.9 303.1 L1062.9 302.5 L1064.8 301.6 L1066.7 301 L1068.6 300.9 L1070.6 301.1 L1072.5 301.3 L1074.4 301.4 L1076.3 301.2 L1078.3 300.6 L1080.2 299.9 L1082.1 299.1 L1084 298.4 L1086 297.7 L1087.9 296.9 L1089.8 296.3 L1091.7 296 L1093.7 296.3 L1095.6 296.9 L1097.5 297.6 L1099.4 298 L1101.4 297.8 L1103.3 297.4 L1105.2 297.1 L1107.1 297.1 L1109.1 297 L1111 296.9 L1112.9 296.9 L1114.8 297.1 L1116.8 297.5 L1118.7 297.7 L1120.6 297.9 L1122.5 298 L1124.5 298.1 L1126.4 298.1 L1128.3 298.1 L1130.2 298.1 L1132.2 298 L1134.1 297.7 L1136 297.4 L1137.9 297 L1139.9 296.8 L1141.8 296.6 L1143.7 296.4 L1145.6 296.4 L1147.6 296.4 L1149.5 296.5 L1151.4 296.6 L1153.3 296.8 L1155.3 296.9 L1157.2 297 L1159.1 297 L1161 296.9 L1163 296.6 L1164.9 296.3 L1166.8 295.9 L1168.7 295.5 L1170.7 295.2 L1172.6 295.1 L1174.5 295.2 L1176.4 295.4 L1178.4 295.8 L1180.3 296.1 L1182.2 296.2 L1184.1 296.2 L1186.1 296.3 L1188 296.5 L1189.9 296.7 L1191.8 296.9 L1193.8 296.7 L1195.7 296.1 L1197.6 295.3 L1199.5 294.5 L1201.5 293.9 L1203.4 293.7 L1205.3 293.9 L1207.2 294.4 L1209.2 294.9 L1211.1 295.3 L1213 295.6 L1214.9 296 L1216.9 296.6 L1218.8 297.1 L1220.7 297.3 L1222.6 297 L1224.6 296.3 L1226.5 295.5 L1228.4 294.7 L1230.3 294 L1232.3 293.5 L1234.2 293.2 L1236.1 293.1 L1238 293.2 L1240 293.5 L1241.9 294 L1243.8 294.4 L1245.7 294.5 L1247.7 294.2 L1249.6 293.5 L1251.5 292.7 L1253.4 291.9 L1255.4 291.3 L1257.3 291 L1259.2 291.1 L1261.1 291.3 L1263.1 291.5 L1265 291.7 L1266.9 291.9 L1268.8 292.5 L1270.8 293.1 L1272.7 293.6 L1274.6 293.6 L1276.5 293.2 L1278.5 292.8 L1280.4 292.5 L1282.3 292.5 L1284.2 292.6 L1286.2 292.5 L1288.1 292.3 L1290 291.8 L1291.9 291.1 L1293.9 290.3 L1295.8 289.5 L1297.7 288.9 L1299.6 288.5 L1301.6 288 L1303.5 287.6 L1305.4 287.5 L1307.3 287.7 L1309.3 288.1 L1311.2 288.5 L1313.1 288.5 L1315 288.3 L1317 287.9 L1318.9 287.4 L1320.8 286.9 L1322.7 286.5 L1324.7 286.2 L1326.6 286.3 L1328.5 286.9 L1330.4 287.4 L1332.4 287.7 L1334.3 287.4 L1336.2 286.7 L1338.1 286 L1340.1 285.7 L1342 285.8 L1343.9 286.2 L1345.8 286.7 L1347.8 287.1 L1349.7 287.2 L1351.6 287 L1353.5 286.8 L1355.5 286.6 L1357.4 286.5 L1359.3 286.5 L1361.2 286.5 L1363.2 286.2 L1365.1 285.6 L1367 284.8 L1368.9 284.2 L1370.9 284 L1372.8 284.2 L1374.7 284.5 L1376.6 284.7 L1378.6 284.6 L1380.5 284.5 L1382.4 284.4 L1384.3 284.6 L1386.3 285 L1388.2 285.3 L1390.1 285.3 L1392 285 L1394 284.5 L1395.9 284.1 L1397.8 283.9 L1399.7 283.9 L1401.7 284 L1403.6 284.1 L1405.5 284.2 L1407.4 284.1 L1409.4 284.1 L1411.3 284.2 L1413.2 284.3 L1415.1 284.6 L1417.1 284.8 L1419 285 L1420.9 285 L1422.8 284.8 L1424.8 284.3 L1426.7 284 L1428.6 283.8 L1430.5 283.7 L1432.5 283.7 L1434.4 283.7 L1436.3 283.7 L1438.2 283.6 L1440.2 283.6 L1442.1 283.5 L1444 283.3 L1445.9 282.9 L1447.9 282.5 L1449.8 282.2 L1451.7 282 L1453.6 281.8 L1455.6 281.7 L1457.5 281.6 L1459.4 281.6 L1461.3 281.5 L1463.3 281.3 L1465.2 280.9 L1467.1 280.6 L1469 280.4 L1471 280.5 L1472.9 280.7 L1474.8 280.7 L1476.7 280.4 L1478.7 279.7 L1480.6 278.9 L1482.5 278.4 L1484.4 278.3 L1486.4 278.7 L1488.3 279.2 L1490.2 279.7 L1492.1 279.9 L1494.1 279.9 L1496 279.6 L1497.9 279.3 L1499.8 279.1 L1501.8 279 L1503.7 279.1 L1505.6 279.3 L1507.5 279.5 L1509.5 279.8 L1511.4 280.2 L1513.3 280.6 L1515.2 281.1 L1517.2 281.4 L1519.1 281.6 L1521 281.6 L1522.9 281.4" fill="none" stroke="#000" stroke-width="4" stroke-linejoin="round" stroke-linecap="round"/>
<rect x="348.8" y="1132.4" width="38.4" height="38.4" fill="none" stroke="#000" stroke-width="3.2"/><path d="M367.9 1132.4V1170.8M348.8 1151.6H387.1" stroke="#000" stroke-width="2.7"/>
<rect x="396.9" y="1130.4" width="38.4" height="38.4" fill="none" stroke="#000" stroke-width="3.2"/><path d="M416.1 1130.4V1168.8M396.9 1149.6H435.3" stroke="#000" stroke-width="2.7"/>
<rect x="445" y="1127.9" width="38.4" height="38.4" fill="none" stroke="#000" stroke-width="3.2"/><path d="M464.2 1127.9V1166.3M445 1147.1H483.4" stroke="#000" stroke-width="2.7"/>
<rect x="493.1" y="1114.3" width="38.4" height="38.4" fill="none" stroke="#000" stroke-width="3.2"/><path d="M512.3 1114.3V1152.7M493.1 1133.5H531.5" stroke="#000" stroke-width="2.7"/>
<rect x="541.2" y="986.3" width="38.4" height="38.4" fill="none" stroke="#000" stroke-width="3.2"/><path d="M560.5 986.3V1024.7M541.2 1005.5H579.7" stroke="#000" stroke-width="2.7"/>
<rect x="589.4" y="755.1" width="38.4" height="38.4" fill="none" stroke="#000" stroke-width="3.2"/><path d="M608.6 755.1V793.5M589.4 774.3H627.8" stroke="#000" stroke-width="2.7"/>
<rect x="637.5" y="559.2" width="38.4" height="38.4" fill="none" stroke="#000" stroke-width="3.2"/><path d="M656.7 559.2V597.6M637.5 578.4H675.9" stroke="#000" stroke-width="2.7"/>
<rect x="685.6" y="442" width="38.4" height="38.4" fill="none" stroke="#000" stroke-width="3.2"/><path d="M704.8 442V480.4M685.6 461.2H724" stroke="#000" stroke-width="2.7"/>
<rect x="733.8" y="375.3" width="38.4" height="38.4" fill="none" stroke="#000" stroke-width="3.2"/><path d="M753 375.3V413.7M733.8 394.5H772.2" stroke="#000" stroke-width="2.7"/>
<rect x="781.9" y="340.8" width="38.4" height="38.4" fill="none" stroke="#000" stroke-width="3.2"/><path d="M801.1 340.8V379.2M781.9 360H820.3" stroke="#000" stroke-width="2.7"/>
<rect x="830" y="319.1" width="38.4" height="38.4" fill="none" stroke="#000" stroke-width="3.2"/><path d="M849.2 319.1V357.5M830 338.3H868.4" stroke="#000" stroke-width="2.7"/>
<rect x="878.1" y="307.2" width="38.4" height="38.4" fill="none" stroke="#000" stroke-width="3.2"/><path d="M897.3 307.2V345.6M878.1 326.4H916.5" stroke="#000" stroke-width="2.7"/>
<rect x="926.2" y="298" width="38.4" height="38.4" fill="none" stroke="#000" stroke-width="3.2"/><path d="M945.5 298V336.4M926.2 317.2H964.7" stroke="#000" stroke-width="2.7"/>
<rect x="974.4" y="289.8" width="38.4" height="38.4" fill="none" stroke="#000" stroke-width="3.2"/><path d="M993.6 289.8V328.2M974.4 309H1012.8" stroke="#000" stroke-width="2.7"/>
<rect x="1022.5" y="285" width="38.4" height="38.4" fill="none" stroke="#000" stroke-width="3.2"/><path d="M1041.7 285V323.4M1022.5 304.2H1060.9" stroke="#000" stroke-width="2.7"/>
<rect x="1070.6" y="279.9" width="38.4" height="38.4" fill="none" stroke="#000" stroke-width="3.2"/><path d="M1089.8 279.9V318.3M1070.6 299.1H1109" stroke="#000" stroke-width="2.7"/>
<rect x="1118.8" y="278.6" width="38.4" height="38.4" fill="none" stroke="#000" stroke-width="3.2"/><path d="M1138 278.6V317M1118.8 297.8H1157.2" stroke="#000" stroke-width="2.7"/>
<rect x="1166.9" y="277.7" width="38.4" height="38.4" fill="none" stroke="#000" stroke-width="3.2"/><path d="M1186.1 277.7V316.1M1166.9 296.9H1205.3" stroke="#000" stroke-width="2.7"/>
<rect x="1215" y="275.3" width="38.4" height="38.4" fill="none" stroke="#000" stroke-width="3.2"/><path d="M1234.2 275.3V313.7M1215 294.5H1253.4" stroke="#000" stroke-width="2.7"/>
<rect x="1263.1" y="273.1" width="38.4" height="38.4" fill="none" stroke="#000" stroke-width="3.2"/><path d="M1282.3 273.1V311.5M1263.1 292.3H1301.5" stroke="#000" stroke-width="2.7"/>
<rect x="1311.2" y="268.5" width="38.4" height="38.4" fill="none" stroke="#000" stroke-width="3.2"/><path d="M1330.5 268.5V306.9M1311.2 287.7H1349.7" stroke="#000" stroke-width="2.7"/>
<rect x="1359.4" y="266.5" width="38.4" height="38.4" fill="none" stroke="#000" stroke-width="3.2"/><path d="M1378.6 266.5V304.9M1359.4 285.7H1397.8" stroke="#000" stroke-width="2.7"/>
<rect x="1407.5" y="264.1" width="38.4" height="38.4" fill="none" stroke="#000" stroke-width="3.2"/><path d="M1426.7 264.1V302.5M1407.5 283.3H1445.9" stroke="#000" stroke-width="2.7"/>
<rect x="1455.6" y="260.4" width="38.4" height="38.4" fill="none" stroke="#000" stroke-width="3.2"/><path d="M1474.8 260.4V298.8M1455.6 279.6H1494" stroke="#000" stroke-width="2.7"/>
<rect x="1503.8" y="261" width="38.4" height="38.4" fill="none" stroke="#000" stroke-width="3.2"/><path d="M1523 261V299.4M1503.8 280.2H1542.2" stroke="#000" stroke-width="2.7"/>
<path d="M464.2 1152.9 L466.1 1152.8 L468 1152.4 L470 1152 L471.9 1151.6 L473.8 1151.5 L475.7 1151.6 L477.7 1151.9 L479.6 1152.2 L481.5 1152.5 L483.4 1152.6 L485.4 1152.4 L487.3 1152 L489.2 1151.5 L491.1 1151.3 L493.1 1151.5 L495 1151.8 L496.9 1152 L498.8 1151.9 L500.8 1151.8 L502.7 1151.9 L504.6 1152.2 L506.5 1152.3 L508.5 1152 L510.4 1151.5 L512.3 1151.1 L514.2 1151.1 L516.2 1151.5 L518.1 1152.1 L520 1152.7 L521.9 1153 L523.9 1153 L525.8 1152.7 L527.7 1152.2 L529.6 1151.5 L531.6 1150.7 L533.5 1150.1 L535.4 1149.9 L537.3 1150.3 L539.3 1151 L541.2 1151.5 L543.1 1151.7 L545 1151.6 L547 1151.5 L548.9 1151.3 L550.8 1151.1 L552.7 1150.8 L554.7 1150.3 L556.6 1149.6 L558.5 1148.9 L560.4 1148.2 L562.4 1147.7 L564.3 1147.3 L566.2 1147.2 L568.1 1147.4 L570.1 1147.8 L572 1148.3 L573.9 1148.8 L575.8 1149.2 L577.8 1149.5 L579.7 1149.8 L581.6 1150 L583.5 1150 L585.5 1149.7 L587.4 1149.3 L589.3 1148.7 L591.2 1148.3 L593.2 1148 L595.1 1147.8 L597 1147.6 L598.9 1147.1 L600.9 1146.4 L602.8 1145.5 L604.7 1144.8 L606.6 1144.6 L608.6 1144.9 L610.5 1145.5 L612.4 1145.7 L614.3 1145.2 L616.3 1144.2 L618.2 1142.9 L620.1 1141.9 L622 1141.1 L624 1140.6 L625.9 1140.1 L627.8 1139.3 L629.7 1138.2 L631.7 1137 L633.6 1135.7 L635.5 1134.5 L637.4 1133.4 L639.4 1132.1 L641.3 1130.8 L643.2 1129.6 L645.1 1128.5 L647.1 1127.2 L649 1125.8 L650.9 1124.2 L652.8 1122.4 L654.8 1120.4 L656.7 1118.4 L658.6 1116.2 L660.5 1113.6 L662.5 1110.6 L664.4 1106.9 L666.3 1102.4 L668.2 1097 L670.2 1090.9 L672.1 1084.2 L674 1077.1 L675.9 1069.4 L677.9 1060.9 L679.8 1051.8 L681.7 1042.1 L683.6 1032.2 L685.6 1022.1 L687.5 1012 L689.4 1002.2 L691.3 992.6 L693.3 983.1 L695.2 973.5 L697.1 963.5 L699 953.2 L701 942.8 L702.9 932.5 L704.8 922.5 L706.7 912.6 L708.7 902.1 L710.6 890.7 L712.5 878.2 L714.4 864.6 L716.4 850.5 L718.3 836.1 L720.2 821.6 L722.1 807.1 L724.1 792.8 L726 778.3 L727.9 763.6 L729.8 748.5 L731.8 733.4 L733.7 718.4 L735.6 703.7 L737.5 689.2 L739.5 674.8 L741.4 660.9 L743.3 647.4 L745.2 634.6 L747.2 622.1 L749.1 610 L751 598.4 L752.9 587.4 L754.9 576.8 L756.8 566.2 L758.7 555.7 L760.6 545.5 L762.6 535.9 L764.5 526.6 L766.4 517.7 L768.3 509 L770.3 500.4 L772.2 491.6 L774.1 482.6 L776 473.6 L778 464.7 L779.9 456.1 L781.8 447.6 L783.7 439.5 L785.7 431.9 L787.6 424.9 L789.5 418.7 L791.4 412.7 L793.4 406.8 L795.3 400.6 L797.2 394.2 L799.1 387.8 L801.1 381.7 L803 376 L804.9 370.8 L806.8 366 L808.8 361.5 L810.7 357.3 L812.6 353 L814.5 348.7 L816.5 344.2 L818.4 339.8 L820.3 335.8 L822.2 332.2 L824.2 328.9 L826.1 325.5 L828 321.8 L829.9 318.1 L831.9 314.6 L833.8 311.4 L835.7 308.5 L837.6 305.6 L839.6 302.5 L841.5 299.3 L843.4 296.2 L845.3 293.3 L847.3 290.9 L849.2 288.7 L851.1 286.5 L853 284.2 L855 281.5 L856.9 278.5 L858.8 275.3 L860.7 272.2 L862.7 269.4 L864.6 266.8 L866.5 264.6 L868.4 262.6 L870.4 261 L872.3 259.5 L874.2 257.9 L876.1 256.1 L878.1 254.2 L880 252.4 L881.9 250.9 L883.8 249.5 L885.8 248.2 L887.7 246.7 L889.6 244.8 L891.5 242.6 L893.5 240.3 L895.4 238.2 L897.3 236.6 L899.2 235.6 L901.2 235 L903.1 234.3 L905 233.2 L906.9 231.8 L908.9 230.2 L910.8 228.8 L912.7 227.5 L914.6 226.2 L916.6 224.9 L918.5 223.8 L920.4 222.7 L922.3 221.8 L924.3 220.9 L926.2 219.9 L928.1 218.8 L930 217.7 L932 216.4 L933.9 215.3 L935.8 214.2 L937.7 213.3 L939.7 212.4 L941.6 211.4 L943.5 210.4 L945.4 209.4 L947.4 208.7 L949.3 208.1 L951.2 207.8 L953.1 207.4 L955.1 206.9 L957 206.3 L958.9 205.9 L960.8 205.6 L962.8 205.4 L964.7 205 L966.6 204.3 L968.5 203.2 L970.5 202.1 L972.4 201.1 L974.3 200.3 L976.2 199.5 L978.2 198.5 L980.1 197.1 L982 195.7 L983.9 194.6 L985.9 193.9 L987.8 193.5 L989.7 193.4 L991.6 193.2 L993.6 192.8 L995.5 192.4 L997.4 191.9 L999.3 191.5 L1001.3 191.2 L1003.2 190.8 L1005.1 190.3 L1007 189.7 L1009 189.1 L1010.9 188.5 L1012.8 187.8 L1014.7 186.9 L1016.7 185.8 L1018.6 184.7 L1020.5 183.8 L1022.4 183.3 L1024.4 183.1 L1026.3 183.1 L1028.2 183 L1030.1 182.8 L1032.1 182.5 L1034 182.3 L1035.9 182.4 L1037.8 182.6 L1039.8 182.7 L1041.7 182.5 L1043.6 182.1 L1045.5 181.5 L1047.5 180.8 L1049.4 180.2 L1051.3 179.8 L1053.2 179.4 L1055.2 178.9 L1057.1 178 L1059 177.1 L1060.9 176.5 L1062.9 176.4 L1064.8 176.6 L1066.7 176.9 L1068.6 177.1 L1070.6 177 L1072.5 176.7 L1074.4 176.3 L1076.3 176.1 L1078.3 176.2 L1080.2 176.6 L1082.1 177 L1084 177.2 L1086 177.1 L1087.9 176.8 L1089.8 176.6 L1091.7 176.2 L1093.7 175.5 L1095.6 174.6 L1097.5 173.5 L1099.4 172.5 L1101.4 171.6 L1103.3 170.8 L1105.2 170.2 L1107.1 169.7 L1109.1 169.4 L1111 169.2 L1112.9 169.1 L1114.8 169 L1116.8 168.9 L1118.7 168.8 L1120.6 168.5 L1122.5 168.1 L1124.5 167.5 L1126.4 166.9 L1128.3 166.4 L1130.2 166 L1132.2 165.7 L1134.1 165.6 L1136 165.8 L1137.9 166.2 L1139.9 166.6 L1141.8 166.8 L1143.7 166.9 L1145.6 166.8 L1147.6 166.6 L1149.5 166.5 L1151.4 166.6 L1153.3 166.8 L1155.3 166.9 L1157.2 166.7 L1159.1 166.2 L1161 165.6 L1163 164.9 L1164.9 164.4 L1166.8 164.1 L1168.7 163.9 L1170.7 163.5 L1172.6 163.2 L1174.5 162.9 L1176.4 162.8 L1178.4 162.6 L1180.3 162.4 L1182.2 162 L1184.1 161.8 L1186.1 161.8 L1188 162 L1189.9 162.2 L1191.8 162.2 L1193.8 161.9 L1195.7 161.4 L1197.6 161 L1199.5 160.9 L1201.5 160.9 L1203.4 161 L1205.3 161 L1207.2 161.1 L1209.2 161 L1211.1 160.4 L1213 159.5 L1214.9 158.5 L1216.9 157.8 L1218.8 157.7 L1220.7 157.9 L1222.6 158.3 L1224.6 158.7 L1226.5 159 L1228.4 159.1 L1230.3 159 L1232.3 158.7 L1234.2 158.3 L1236.1 157.8 L1238 157.3 L1240 156.8 L1241.9 156.2 L1243.8 155.7 L1245.7 155.3 L1247.7 155.2 L1249.6 155.5 L1251.5 155.9 L1253.4 156.1 L1255.4 156 L1257.3 155.5 L1259.2 154.6 L1261.1 153.7 L1263.1 152.7 L1265 151.9 L1266.9 151.5 L1268.8 151.6 L1270.8 152.2 L1272.7 153 L1274.6 153.8 L1276.5 154.5 L1278.5 154.8 L1280.4 155 L1282.3 155 L1284.2 155 L1286.2 154.8 L1288.1 154.5 L1290 154 L1291.9 153.7 L1293.9 153.5 L1295.8 153.4 L1297.7 153.1 L1299.6 152.8 L1301.6 152.4 L1303.5 152.2 L1305.4 152 L1307.3 151.8 L1309.3 151.4 L1311.2 150.9 L1313.1 150.5 L1315 150.3 L1317 150.5 L1318.9 151 L1320.8 151.5 L1322.7 151.8 L1324.7 151.9 L1326.6 151.9 L1328.5 151.9 L1330.4 151.9 L1332.4 151.7 L1334.3 151.5 L1336.2 151.3 L1338.1 151.2 L1340.1 150.9 L1342 150.6 L1343.9 150.3 L1345.8 150 L1347.8 149.7 L1349.7 149.3 L1351.6 148.7 L1353.5 148.1 L1355.5 147.5 L1357.4 147 L1359.3 146.5 L1361.2 146.1 L1363.2 145.8 L1365.1 145.8 L1367 146.2 L1368.9 146.7 L1370.9 147 L1372.8 147.1 L1374.7 147 L1376.6 146.9 L1378.6 146.7 L1380.5 146.4 L1382.4 146.1 L1384.3 145.7 L1386.3 145.3 L1388.2 145.1 L1390.1 145.1 L1392 145.1 L1394 145 L1395.9 144.9 L1397.8 144.7 L1399.7 144.4 L1401.7 144 L1403.6 143.7 L1405.5 143.4 L1407.4 143.4 L1409.4 143.7 L1411.3 144.1 L1413.2 144.7 L1415.1 145.2 L1417.1 145.4 L1419 145.2 L1420.9 144.5 L1422.8 143.7 L1424.8 143.2 L1426.7 143.2 L1428.6 143.5 L1430.5 143.8 L1432.5 144 L1434.4 144 L1436.3 144 L1438.2 144.2 L1440.2 144.5 L1442.1 144.7 L1444 144.6 L1445.9 144.2 L1447.9 143.8 L1449.8 143.3 L1451.7 142.9 L1453.6 142.4 L1455.6 141.7 L1457.5 141 L1459.4 140.5 L1461.3 140.1 L1463.3 139.9 L1465.2 139.8 L1467.1 139.9 L1469 140.2 L1471 140.7 L1472.9 141.2 L1474.8 141.5 L1476.7 141.7 L1478.7 141.8 L1480.6 141.8 L1482.5 141.6 L1484.4 141.1 L1486.4 140.3 L1488.3 139.4 L1490.2 138.6 L1492.1 138.2 L1494.1 138.1 L1496 138 L1497.9 137.9 L1499.8 137.8 L1501.8 137.7 L1503.7 137.8 L1505.6 138.1 L1507.5 138.5 L1509.5 138.7 L1511.4 138.5 L1513.3 138.4 L1515.2 138.6 L1517.2 139 L1519.1 139.3 L1521 139.5 L1522.9 139.3 L1524.9 139 L1526.8 138.7 L1528.7 138.5 L1530.6 138.3 L1532.6 138.1 L1534.5 137.9 L1536.4 137.4 L1538.3 136.8 L1540.3 136.2 L1542.2 136 L1544.1 136.3 L1546 136.8 L1548 137.2 L1549.9 137.3 L1551.8 137.1 L1553.7 136.8 L1555.7 136.5 L1557.6 136.2 L1559.5 135.8 L1561.4 135.4 L1563.4 135 L1565.3 134.7 L1567.2 134.7 L1569.1 135 L1571.1 135.3 L1573 135.6 L1574.9 135.9 L1576.8 136 L1578.8 135.9 L1580.7 135.5 L1582.6 135 L1584.5 134.5 L1586.5 134.2 L1588.4 134 L1590.3 133.9 L1592.2 133.8 L1594.2 133.9 L1596.1 134.3 L1598 135.1 L1599.9 135.8 L1601.9 136.4 L1603.8 136.6 L1605.7 136.7 L1607.6 136.5 L1609.6 136 L1611.5 135.1 L1613.4 134 L1615.3 133 L1617.3 132.4 L1619.2 132.2" fill="none" stroke="#0000ff" stroke-width="4" stroke-linejoin="round" stroke-linecap="round"/>
<circle cx="464.2" cy="1152.2" r="22.6" fill="#0000ff"/>
<circle cx="512.3" cy="1153.1" r="22.6" fill="#0000ff"/>
<circle cx="560.5" cy="1149.4" r="22.6" fill="#0000ff"/>
<circle cx="608.6" cy="1144.9" r="22.6" fill="#0000ff"/>
<circle cx="656.7" cy="1121" r="22.6" fill="#0000ff"/>
<circle cx="704.8" cy="922.5" r="22.6" fill="#0000ff"/>
<circle cx="753" cy="586.9" r="22.6" fill="#0000ff"/>
<circle cx="801.1" cy="382.3" r="22.6" fill="#0000ff"/>
<circle cx="849.2" cy="287.7" r="22.6" fill="#0000ff"/>
<circle cx="897.3" cy="237.4" r="22.6" fill="#0000ff"/>
<circle cx="945.5" cy="209.4" r="22.6" fill="#0000ff"/>
<circle cx="993.6" cy="193.4" r="22.6" fill="#0000ff"/>
<circle cx="1041.7" cy="181.3" r="22.6" fill="#0000ff"/>
<circle cx="1089.8" cy="174.9" r="22.6" fill="#0000ff"/>
<circle cx="1138" cy="166.4" r="22.6" fill="#0000ff"/>
<circle cx="1186.1" cy="161.7" r="22.6" fill="#0000ff"/>
<circle cx="1234.2" cy="157.1" r="22.6" fill="#0000ff"/>
<circle cx="1282.3" cy="153.4" r="22.6" fill="#0000ff"/>
<circle cx="1330.5" cy="150.3" r="22.6" fill="#0000ff"/>
<circle cx="1378.6" cy="146.1" r="22.6" fill="#0000ff"/>
<circle cx="1426.7" cy="143.9" r="22.6" fill="#0000ff"/>
<circle cx="1474.8" cy="140.6" r="22.6" fill="#0000ff"/>
<circle cx="1523" cy="137.8" r="22.6" fill="#0000ff"/>
<circle cx="1571.1" cy="135.4" r="22.6" fill="#0000ff"/>
<circle cx="1619.2" cy="133.6" r="22.6" fill="#0000ff"/>
<path d="M464.2 1152.1 L466.1 1152 L468 1151.9 L470 1151.8 L471.9 1151.7 L473.8 1151.8 L475.7 1152.3 L477.7 1152.8 L479.6 1153.1 L481.5 1152.9 L483.4 1152.5 L485.4 1152.1 L487.3 1151.8 L489.2 1151.5 L491.1 1151.3 L493.1 1151.2 L495 1151.2 L496.9 1151.5 L498.8 1151.8 L500.8 1151.9 L502.7 1151.7 L504.6 1151.4 L506.5 1150.9 L508.5 1150.5 L510.4 1150.4 L512.3 1150.7 L514.2 1151.5 L516.2 1152.1 L518.1 1152.3 L520 1152 L521.9 1151.3 L523.9 1150.3 L525.8 1149.3 L527.7 1148.7 L529.6 1148.5 L531.6 1148.8 L533.5 1149.6 L535.4 1150.3 L537.3 1150.8 L539.3 1150.6 L541.2 1149.7 L543.1 1148.6 L545 1147.5 L547 1146.9 L548.9 1146.7 L550.8 1147.1 L552.7 1147.6 L554.7 1148.1 L556.6 1148 L558.5 1147.6 L560.4 1147.1 L562.4 1146.8 L564.3 1146.9 L566.2 1147.3 L568.1 1147.6 L570.1 1147.9 L572 1147.9 L573.9 1147.8 L575.8 1147.7 L577.8 1147.6 L579.7 1147.4 L581.6 1147.1 L583.5 1146.8 L585.5 1146.4 L587.4 1145.9 L589.3 1145.6 L591.2 1145.4 L593.2 1145.3 L595.1 1145.1 L597 1144.7 L598.9 1144.3 L600.9 1144.1 L602.8 1143.9 L604.7 1143.8 L606.6 1143.7 L608.6 1143.6 L610.5 1143.5 L612.4 1143.2 L614.3 1142.8 L616.3 1142.4 L618.2 1142.1 L620.1 1141.5 L622 1140.7 L624 1139.6 L625.9 1138.4 L627.8 1137.4 L629.7 1136.6 L631.7 1135.8 L633.6 1134.9 L635.5 1133.7 L637.4 1132.4 L639.4 1131.3 L641.3 1130.4 L643.2 1129.4 L645.1 1128.2 L647.1 1126.7 L649 1125 L650.9 1123.6 L652.8 1122.3 L654.8 1120.9 L656.7 1119.1 L658.6 1116.4 L660.5 1112.5 L662.5 1107.8 L664.4 1102.4 L666.3 1096.3 L668.2 1089.5 L670.2 1082.2 L672.1 1074.1 L674 1065.3 L675.9 1055.9 L677.9 1046 L679.8 1035.6 L681.7 1025 L683.6 1014.2 L685.6 1003.3 L687.5 992.1 L689.4 980.4 L691.3 968.4 L693.3 956.2 L695.2 944 L697.1 931.8 L699 919.8 L701 908.2 L702.9 897.1 L704.8 886.6 L706.7 876.1 L708.7 864.8 L710.6 852.4 L712.5 839 L714.4 824.5 L716.4 809.7 L718.3 795.1 L720.2 780.7 L722.1 766.7 L724.1 752.7 L726 738.6 L727.9 724.4 L729.8 710.1 L731.8 695.8 L733.7 681.8 L735.6 668 L737.5 654.3 L739.5 640.8 L741.4 627.3 L743.3 614.1 L745.2 601.2 L747.2 588.8 L749.1 577.1 L751 566.1 L752.9 556 L754.9 546.4 L756.8 537.1 L758.7 528 L760.6 518.9 L762.6 509.8 L764.5 500.9 L766.4 492.2 L768.3 483.5 L770.3 474.8 L772.2 466.1 L774.1 457.6 L776 449.6 L778 442 L779.9 434.8 L781.8 427.9 L783.7 421.3 L785.7 414.9 L787.6 408.5 L789.5 402.1 L791.4 395.8 L793.4 389.6 L795.3 383.5 L797.2 377.7 L799.1 372.2 L801.1 367 L803 362.2 L804.9 357.6 L806.8 353.3 L808.8 349.1 L810.7 345 L812.6 340.8 L814.5 336.6 L816.5 332.4 L818.4 328.2 L820.3 324.1 L822.2 320 L824.2 316.3 L826.1 312.9 L828 310 L829.9 307.3 L831.9 304.6 L833.8 301.7 L835.7 298.8 L837.6 295.8 L839.6 292.8 L841.5 289.9 L843.4 287.2 L845.3 284.7 L847.3 282.3 L849.2 279.9 L851.1 277.3 L853 274.8 L855 272.4 L856.9 270.1 L858.8 267.9 L860.7 265.6 L862.7 263.4 L864.6 261.4 L866.5 259.8 L868.4 258.4 L870.4 256.8 L872.3 255 L874.2 252.9 L876.1 250.8 L878.1 248.9 L880 247.1 L881.9 245.1 L883.8 243 L885.8 240.8 L887.7 238.5 L889.6 236.6 L891.5 235 L893.5 233.7 L895.4 232.5 L897.3 231.2 L899.2 229.8 L901.2 228.7 L903.1 227.8 L905 227.1 L906.9 226.5 L908.9 225.6 L910.8 224.5 L912.7 223.2 L914.6 221.8 L916.6 220.3 L918.5 218.9 L920.4 217.7 L922.3 216.7 L924.3 216 L926.2 215.2 L928.1 214.6 L930 214.2 L932 213.8 L933.9 213.4 L935.8 212.8 L937.7 211.9 L939.7 211 L941.6 210.3 L943.5 209.6 L945.4 208.9 L947.4 207.8 L949.3 206.4 L951.2 204.8 L953.1 203.4 L955.1 202.3 L957 201.8 L958.9 201.8 L960.8 201.9 L962.8 202 L964.7 201.8 L966.6 201.1 L968.5 199.8 L970.5 198.3 L972.4 196.9 L974.3 196.1 L976.2 195.7 L978.2 195.7 L980.1 195.7 L982 195.7 L983.9 195.4 L985.9 194.8 L987.8 193.9 L989.7 192.6 L991.6 191.2 L993.6 189.7 L995.5 188.4 L997.4 187.5 L999.3 187.1 L1001.3 187.1 L1003.2 187.4 L1005.1 187.6 L1007 187.5 L1009 187 L1010.9 186.4 L1012.8 185.8 L1014.7 185.2 L1016.7 184.5 L1018.6 183.6 L1020.5 182.7 L1022.4 181.8 L1024.4 181.1 L1026.3 180.5 L1028.2 180.1 L1030.1 179.7 L1032.1 179.3 L1034 178.7 L1035.9 178 L1037.8 177.2 L1039.8 176.5 L1041.7 176 L1043.6 175.7 L1045.5 175.7 L1047.5 175.9 L1049.4 176.5 L1051.3 177.2 L1053.2 177.6 L1055.2 177.7 L1057.1 177.4 L1059 177.1 L1060.9 177 L1062.9 177 L1064.8 177.1 L1066.7 177 L1068.6 176.6 L1070.6 175.8 L1072.5 174.7 L1074.4 173.7 L1076.3 173.1 L1078.3 173 L1080.2 173.2 L1082.1 173.3 L1084 173.1 L1086 172.7 L1087.9 172.3 L1089.8 172 L1091.7 171.7 L1093.7 171.3 L1095.6 170.8 L1097.5 170.2 L1099.4 169.6 L1101.4 169 L1103.3 168.3 L1105.2 167.7 L1107.1 167.1 L1109.1 166.8 L1111 167 L1112.9 167.5 L1114.8 168.1 L1116.8 168.3 L1118.7 168.2 L1120.6 167.8 L1122.5 167.4 L1124.5 167.1 L1126.4 166.8 L1128.3 166.5 L1130.2 166 L1132.2 165.2 L1134.1 164.5 L1136 163.9 L1137.9 163.6 L1139.9 163.3 L1141.8 163.2 L1143.7 163 L1145.6 163.1 L1147.6 163.3 L1149.5 163.6 L1151.4 163.9 L1153.3 163.9 L1155.3 163.8 L1157.2 163.6 L1159.1 163.4 L1161 163.2 L1163 162.9 L1164.9 162.4 L1166.8 162 L1168.7 161.7 L1170.7 161.3 L1172.6 160.8 L1174.5 160.1 L1176.4 159.5 L1178.4 159.2 L1180.3 159.1 L1182.2 159.1 L1184.1 159.2 L1186.1 159.3 L1188 159.5 L1189.9 159.6 L1191.8 159.6 L1193.8 159.5 L1195.7 159.5 L1197.6 159.6 L1199.5 159.8 L1201.5 159.9 L1203.4 159.9 L1205.3 159.8 L1207.2 159.6 L1209.2 159.2 L1211.1 158.9 L1213 158.7 L1214.9 158.5 L1216.9 158.2 L1218.8 157.7 L1220.7 157.1 L1222.6 156.3 L1224.6 155.5 L1226.5 154.9 L1228.4 154.7 L1230.3 154.7 L1232.3 154.7 L1234.2 154.4 L1236.1 153.7 L1238 153.1 L1240 152.8 L1241.9 153 L1243.8 153.6 L1245.7 154.2 L1247.7 154.5 L1249.6 154.5 L1251.5 154.3 L1253.4 154 L1255.4 153.7 L1257.3 153.5 L1259.2 153.6 L1261.1 153.7 L1263.1 153.5 L1265 152.8 L1266.9 151.8 L1268.8 150.6 L1270.8 149.7 L1272.7 149.1 L1274.6 149 L1276.5 149.4 L1278.5 150.2 L1280.4 151.1 L1282.3 151.8 L1284.2 152.1 L1286.2 152.3 L1288.1 152.3 L1290 152.1 L1291.9 151.7 L1293.9 151.2 L1295.8 150.8 L1297.7 150.7 L1299.6 150.9 L1301.6 151.3 L1303.5 151.7 L1305.4 151.8 L1307.3 151.7 L1309.3 151.4 L1311.2 150.8 L1313.1 150.1 L1315 149.5 L1317 149.3 L1318.9 149.3 L1320.8 149.3 L1322.7 149.2 L1324.7 149.1 L1326.6 149 L1328.5 148.8 L1330.4 148.5 L1332.4 148.4 L1334.3 148.5 L1336.2 148.8 L1338.1 149 L1340.1 149 L1342 148.7 L1343.9 148.4 L1345.8 148.1 L1347.8 147.7 L1349.7 147.2 L1351.6 146.8 L1353.5 146.6 L1355.5 146.6 L1357.4 146.8 L1359.3 146.9 L1361.2 147 L1363.2 147.1 L1365.1 147.2 L1367 147.3 L1368.9 147.1 L1370.9 146.5 L1372.8 145.5 L1374.7 144.6 L1376.6 144.2 L1378.6 144.2 L1380.5 144.4 L1382.4 144.7 L1384.3 144.9 L1386.3 145 L1388.2 144.8 L1390.1 144.5 L1392 144.1 L1394 144 L1395.9 143.9 L1397.8 143.6 L1399.7 143.1 L1401.7 142.5 L1403.6 142 L1405.5 141.8 L1407.4 142 L1409.4 142.3 L1411.3 142.3 L1413.2 142 L1415.1 141.4 L1417.1 140.7 L1419 140.4 L1420.9 140.6 L1422.8 141.2 L1424.8 141.8 L1426.7 142.2 L1428.6 142.1 L1430.5 141.7 L1432.5 141.3 L1434.4 140.9 L1436.3 140.8 L1438.2 141 L1440.2 141.2 L1442.1 141.3 L1444 141.2 L1445.9 140.9 L1447.9 140.7 L1449.8 140.6 L1451.7 140.8 L1453.6 141.1 L1455.6 141.3 L1457.5 141.2 L1459.4 140.8 L1461.3 140.3 L1463.3 140.1 L1465.2 140 L1467.1 139.9 L1469 139.5 L1471 139 L1472.9 138.5 L1474.8 138.2 L1476.7 138.1 L1478.7 138.2 L1480.6 138.4 L1482.5 138.4 L1484.4 138.2 L1486.4 137.8 L1488.3 137.4 L1490.2 137.1 L1492.1 137 L1494.1 137 L1496 137.2 L1497.9 137.4 L1499.8 137.5 L1501.8 137.4 L1503.7 137.1 L1505.6 136.7 L1507.5 136.5 L1509.5 136.5 L1511.4 136.4 L1513.3 136.3 L1515.2 136.1 L1517.2 136.2 L1519.1 136.7 L1521 137.4 L1522.9 138 L1524.9 138.3 L1526.8 138.3 L1528.7 137.9 L1530.6 137.5 L1532.6 137.1 L1534.5 136.9 L1536.4 136.7 L1538.3 136.6 L1540.3 136.6 L1542.2 136.8 L1544.1 137 L1546 137 L1548 136.4 L1549.9 135.4 L1551.8 134.2 L1553.7 133.2 L1555.7 132.6 L1557.6 132.5 L1559.5 132.6 L1561.4 132.8 L1563.4 132.9 L1565.3 133 L1567.2 133 L1569.1 132.9 L1571.1 132.6 L1573 132.1 L1574.9 131.8 L1576.8 131.7 L1578.8 131.7 L1580.7 131.6 L1582.6 131.2 L1584.5 130.6 L1586.5 130.2 L1588.4 130.1 L1590.3 130.4 L1592.2 131 L1594.2 131.5 L1596.1 131.8 L1598 131.8 L1599.9 131.5 L1601.9 131.1 L1603.8 130.8 L1605.7 130.7 L1607.6 130.7 L1609.6 130.9 L1611.5 131.2 L1613.4 131.6 L1615.3 132 L1617.3 132.2 L1619.2 132" fill="none" stroke="#0000ff" stroke-width="4" stroke-linejoin="round" stroke-linecap="round"/>
<circle cx="464.2" cy="1152.2" r="21.2" fill="#fff" stroke="#0000ff" stroke-width="2.9"/>
<circle cx="512.3" cy="1151.3" r="21.2" fill="#fff" stroke="#0000ff" stroke-width="2.9"/>
<circle cx="560.5" cy="1148.5" r="21.2" fill="#fff" stroke="#0000ff" stroke-width="2.9"/>
<circle cx="608.6" cy="1143.9" r="21.2" fill="#fff" stroke="#0000ff" stroke-width="2.9"/>
<circle cx="656.7" cy="1118.4" r="21.2" fill="#fff" stroke="#0000ff" stroke-width="2.9"/>
<circle cx="704.8" cy="887" r="21.2" fill="#fff" stroke="#0000ff" stroke-width="2.9"/>
<circle cx="753" cy="557.5" r="21.2" fill="#fff" stroke="#0000ff" stroke-width="2.9"/>
<circle cx="801.1" cy="366.4" r="21.2" fill="#fff" stroke="#0000ff" stroke-width="2.9"/>
<circle cx="849.2" cy="278.7" r="21.2" fill="#fff" stroke="#0000ff" stroke-width="2.9"/>
<circle cx="897.3" cy="233.2" r="21.2" fill="#fff" stroke="#0000ff" stroke-width="2.9"/>
<circle cx="945.5" cy="206.6" r="21.2" fill="#fff" stroke="#0000ff" stroke-width="2.9"/>
<circle cx="993.6" cy="190.5" r="21.2" fill="#fff" stroke="#0000ff" stroke-width="2.9"/>
<circle cx="1041.7" cy="178.2" r="21.2" fill="#fff" stroke="#0000ff" stroke-width="2.9"/>
<circle cx="1089.8" cy="171.8" r="21.2" fill="#fff" stroke="#0000ff" stroke-width="2.9"/>
<circle cx="1138" cy="164.6" r="21.2" fill="#fff" stroke="#0000ff" stroke-width="2.9"/>
<circle cx="1186.1" cy="159.8" r="21.2" fill="#fff" stroke="#0000ff" stroke-width="2.9"/>
<circle cx="1234.2" cy="155.4" r="21.2" fill="#fff" stroke="#0000ff" stroke-width="2.9"/>
<circle cx="1282.3" cy="152.1" r="21.2" fill="#fff" stroke="#0000ff" stroke-width="2.9"/>
<circle cx="1330.5" cy="149" r="21.2" fill="#fff" stroke="#0000ff" stroke-width="2.9"/>
<circle cx="1378.6" cy="144.8" r="21.2" fill="#fff" stroke="#0000ff" stroke-width="2.9"/>
<circle cx="1426.7" cy="142.8" r="21.2" fill="#fff" stroke="#0000ff" stroke-width="2.9"/>
<circle cx="1474.8" cy="139.3" r="21.2" fill="#fff" stroke="#0000ff" stroke-width="2.9"/>
<circle cx="1523" cy="136.5" r="21.2" fill="#fff" stroke="#0000ff" stroke-width="2.9"/>
<circle cx="1571.1" cy="133.2" r="21.2" fill="#fff" stroke="#0000ff" stroke-width="2.9"/>
<circle cx="1619.2" cy="129.6" r="21.2" fill="#fff" stroke="#0000ff" stroke-width="2.9"/>
<path d="M464.2 1151.4 L466.1 1151.1 L468 1150.9 L470 1150.8 L471.9 1150.9 L473.8 1151 L475.7 1150.9 L477.7 1150.7 L479.6 1150.6 L481.5 1150.6 L483.4 1150.7 L485.4 1150.8 L487.3 1150.8 L489.2 1150.7 L491.1 1150.4 L493.1 1150.2 L495 1150.1 L496.9 1150.4 L498.8 1151 L500.8 1151.6 L502.7 1151.9 L504.6 1151.6 L506.5 1151.1 L508.5 1150.6 L510.4 1150.3 L512.3 1150.2 L514.2 1150.2 L516.2 1150.1 L518.1 1150 L520 1149.9 L521.9 1149.9 L523.9 1149.7 L525.8 1149.5 L527.7 1149.1 L529.6 1148.8 L531.6 1148.6 L533.5 1148.5 L535.4 1148.4 L537.3 1148.4 L539.3 1148.5 L541.2 1148.6 L543.1 1148.6 L545 1148.7 L547 1148.9 L548.9 1149 L550.8 1149.2 L552.7 1149.5 L554.7 1149.9 L556.6 1150.2 L558.5 1150.1 L560.4 1149.4 L562.4 1148.3 L564.3 1147 L566.2 1146.2 L568.1 1146 L570.1 1146.2 L572 1146.7 L573.9 1147.2 L575.8 1147.6 L577.8 1147.9 L579.7 1147.9 L581.6 1147.8 L583.5 1147.6 L585.5 1147.2 L587.4 1146.7 L589.3 1146.1 L591.2 1145.5 L593.2 1145 L595.1 1144.5 L597 1144.2 L598.9 1143.9 L600.9 1143.6 L602.8 1143.2 L604.7 1142.8 L606.6 1142.6 L608.6 1142.8 L610.5 1143 L612.4 1143 L614.3 1142.6 L616.3 1141.7 L618.2 1140.6 L620.1 1139.3 L622 1137.9 L624 1136.4 L625.9 1134.6 L627.8 1132.8 L629.7 1131.1 L631.7 1129.5 L633.6 1127.7 L635.5 1125.6 L637.4 1123.1 L639.4 1120.3 L641.3 1117.5 L643.2 1114.7 L645.1 1112 L647.1 1109.1 L649 1106 L650.9 1102.9 L652.8 1099.6 L654.8 1096 L656.7 1092.1 L658.6 1087.5 L660.5 1082.1 L662.5 1075.9 L664.4 1069 L666.3 1061.3 L668.2 1052.8 L670.2 1043.5 L672.1 1033.3 L674 1022.1 L675.9 1009.9 L677.9 997.1 L679.8 984.1 L681.7 971.1 L683.6 958.1 L685.6 944.8 L687.5 931.1 L689.4 916.9 L691.3 902.7 L693.3 888.9 L695.2 875.8 L697.1 863.1 L699 850.8 L701 838.5 L702.9 826.5 L704.8 814.7 L706.7 802.8 L708.7 790.5 L710.6 777.8 L712.5 765 L714.4 752 L716.4 738.8 L718.3 725.3 L720.2 711.8 L722.1 698 L724.1 684.2 L726 670.3 L727.9 656.5 L729.8 642.9 L731.8 629.7 L733.7 616.6 L735.6 603.6 L737.5 590.9 L739.5 578.4 L741.4 566.2 L743.3 554.7 L745.2 543.9 L747.2 533.8 L749.1 524.3 L751 515.2 L752.9 506.6 L754.9 498.1 L756.8 489.5 L758.7 481.1 L760.6 472.8 L762.6 464.8 L764.5 457.1 L766.4 449.5 L768.3 442.2 L770.3 435.3 L772.2 428.6 L774.1 422 L776 415.4 L778 408.8 L779.9 402.4 L781.8 396.1 L783.7 390 L785.7 383.9 L787.6 378 L789.5 372.3 L791.4 366.9 L793.4 361.8 L795.3 357.1 L797.2 352.6 L799.1 348.2 L801.1 344 L803 340 L804.9 336.2 L806.8 332.9 L808.8 329.8 L810.7 326.8 L812.6 323.7 L814.5 320.6 L816.5 317.4 L818.4 314.2 L820.3 310.6 L822.2 306.7 L824.2 302.5 L826.1 298.5 L828 295 L829.9 292 L831.9 289.3 L833.8 286.7 L835.7 284.2 L837.6 281.9 L839.6 280 L841.5 278.2 L843.4 276.3 L845.3 274 L847.3 271.4 L849.2 268.8 L851.1 266.2 L853 263.9 L855 261.7 L856.9 259.8 L858.8 258.2 L860.7 256.8 L862.7 255.4 L864.6 253.9 L866.5 252.2 L868.4 250.2 L870.4 247.9 L872.3 245.6 L874.2 243.3 L876.1 241.3 L878.1 239.6 L880 237.8 L881.9 236.1 L883.8 234.6 L885.8 233.4 L887.7 232.3 L889.6 231.1 L891.5 229.5 L893.5 227.6 L895.4 225.7 L897.3 224.1 L899.2 223 L901.2 222.3 L903.1 222 L905 221.8 L906.9 221.4 L908.9 220.6 L910.8 219.4 L912.7 217.9 L914.6 216.4 L916.6 215.2 L918.5 214.4 L920.4 213.7 L922.3 213.2 L924.3 212.8 L926.2 212.3 L928.1 211.7 L930 210.9 L932 209.9 L933.9 209 L935.8 208.3 L937.7 207.8 L939.7 207.6 L941.6 207.2 L943.5 206.3 L945.4 205 L947.4 203.5 L949.3 202 L951.2 200.8 L953.1 199.7 L955.1 198.8 L957 198.2 L958.9 197.7 L960.8 197.3 L962.8 196.9 L964.7 196.3 L966.6 195.5 L968.5 194.4 L970.5 193.1 L972.4 191.8 L974.3 190.9 L976.2 190.4 L978.2 190.3 L980.1 190.2 L982 190.2 L983.9 190.1 L985.9 189.9 L987.8 189.3 L989.7 188.5 L991.6 187.6 L993.6 186.7 L995.5 186 L997.4 185.4 L999.3 185 L1001.3 184.7 L1003.2 184.4 L1005.1 184.2 L1007 183.8 L1009 183.3 L1010.9 182.8 L1012.8 182.2 L1014.7 181.5 L1016.7 180.8 L1018.6 180 L1020.5 179.3 L1022.4 178.7 L1024.4 178.2 L1026.3 177.7 L1028.2 177.2 L1030.1 176.6 L1032.1 176.1 L1034 175.8 L1035.9 175.7 L1037.8 175.7 L1039.8 175.7 L1041.7 175.6 L1043.6 175.3 L1045.5 174.6 L1047.5 173.8 L1049.4 172.7 L1051.3 171.7 L1053.2 171.2 L1055.2 171.1 L1057.1 171.5 L1059 172.1 L1060.9 172.7 L1062.9 173.3 L1064.8 173.9 L1066.7 174.4 L1068.6 174.6 L1070.6 174.4 L1072.5 173.5 L1074.4 172.1 L1076.3 170.8 L1078.3 169.8 L1080.2 169.2 L1082.1 168.9 L1084 168.8 L1086 169 L1087.9 169.3 L1089.8 169.6 L1091.7 169.6 L1093.7 169.1 L1095.6 168.2 L1097.5 167.3 L1099.4 166.7 L1101.4 166.6 L1103.3 166.8 L1105.2 166.9 L1107.1 166.8 L1109.1 166.3 L1111 165.6 L1112.9 164.7 L1114.8 163.7 L1116.8 162.8 L1118.7 162.5 L1120.6 162.8 L1122.5 163.4 L1124.5 164.1 L1126.4 164.6 L1128.3 164.8 L1130.2 164.7 L1132.2 164.2 L1134.1 163.4 L1136 162.5 L1137.9 161.9 L1139.9 161.4 L1141.8 161.2 L1143.7 161.1 L1145.6 161.1 L1147.6 161.5 L1149.5 162.1 L1151.4 162.7 L1153.3 163 L1155.3 163 L1157.2 162.8 L1159.1 162.5 L1161 161.8 L1163 160.8 L1164.9 159.5 L1166.8 158.3 L1168.7 157.6 L1170.7 157.5 L1172.6 157.9 L1174.5 158.5 L1176.4 158.9 L1178.4 159 L1180.3 158.9 L1182.2 158.5 L1184.1 158 L1186.1 157.4 L1188 157 L1189.9 156.9 L1191.8 156.9 L1193.8 157 L1195.7 157.2 L1197.6 157.5 L1199.5 158 L1201.5 158.3 L1203.4 158.4 L1205.3 158 L1207.2 157.4 L1209.2 156.6 L1211.1 155.9 L1213 155.4 L1214.9 155.1 L1216.9 154.9 L1218.8 154.6 L1220.7 154.2 L1222.6 153.7 L1224.6 153.2 L1226.5 152.8 L1228.4 152.5 L1230.3 152.4 L1232.3 152.3 L1234.2 152.1 L1236.1 151.6 L1238 150.7 L1240 149.9 L1241.9 149.3 L1243.8 149.3 L1245.7 149.8 L1247.7 150.5 L1249.6 151 L1251.5 151.3 L1253.4 151.1 L1255.4 150.9 L1257.3 150.8 L1259.2 151.1 L1261.1 151.6 L1263.1 152.1 L1265 152.3 L1266.9 152.3 L1268.8 152.3 L1270.8 152.4 L1272.7 152.4 L1274.6 152.3 L1276.5 152 L1278.5 151.5 L1280.4 150.9 L1282.3 150.4 L1284.2 150.2 L1286.2 150.2 L1288.1 150.3 L1290 150.4 L1291.9 150.5 L1293.9 150.7 L1295.8 150.7 L1297.7 150.4 L1299.6 149.7 L1301.6 148.8 L1303.5 148.1 L1305.4 147.9 L1307.3 148.1 L1309.3 148.7 L1311.2 149.2 L1313.1 149.3 L1315 148.9 L1317 148.4 L1318.9 147.8 L1320.8 147.3 L1322.7 147 L1324.7 146.5 L1326.6 145.9 L1328.5 145.2 L1330.4 144.7 L1332.4 144.7 L1334.3 144.9 L1336.2 145.2 L1338.1 145.5 L1340.1 145.8 L1342 146.4 L1343.9 147 L1345.8 147.5 L1347.8 147.4 L1349.7 146.9 L1351.6 146.1 L1353.5 145.4 L1355.5 145 L1357.4 144.9 L1359.3 145.1 L1361.2 145.6 L1363.2 146.1 L1365.1 146.3 L1367 146 L1368.9 145.3 L1370.9 144.5 L1372.8 143.8 L1374.7 143.4 L1376.6 143.3 L1378.6 143.3 L1380.5 143.1 L1382.4 142.8 L1384.3 142.4 L1386.3 142.3 L1388.2 142.6 L1390.1 142.9 L1392 143.2 L1394 143.1 L1395.9 143 L1397.8 142.9 L1399.7 142.9 L1401.7 143.1 L1403.6 143.4 L1405.5 143.8 L1407.4 144.3 L1409.4 144.6 L1411.3 144.5 L1413.2 143.9 L1415.1 143.2 L1417.1 142.7 L1419 142.5 L1420.9 142.6 L1422.8 143 L1424.8 143.3 L1426.7 143 L1428.6 142.1 L1430.5 141 L1432.5 140.1 L1434.4 139.7 L1436.3 139.7 L1438.2 139.8 L1440.2 140 L1442.1 140 L1444 139.7 L1445.9 139.3 L1447.9 138.8 L1449.8 138.3 L1451.7 138 L1453.6 138 L1455.6 138.1 L1457.5 138.4 L1459.4 138.4 L1461.3 138.4 L1463.3 138.2 L1465.2 138 L1467.1 137.8 L1469 137.6 L1471 137.5 L1472.9 137.6 L1474.8 137.7 L1476.7 137.9 L1478.7 137.9 L1480.6 137.7 L1482.5 137.3 L1484.4 137 L1486.4 136.8 L1488.3 136.9 L1490.2 137.2 L1492.1 137.5 L1494.1 137.7 L1496 137.6 L1497.9 137.4 L1499.8 137.3 L1501.8 137.2 L1503.7 136.9 L1505.6 136.7 L1507.5 136.5 L1509.5 136.5 L1511.4 136.6 L1513.3 136.8 L1515.2 137 L1517.2 136.8 L1519.1 136.4 L1521 135.7 L1522.9 135 L1524.9 134.4 L1526.8 134 L1528.7 133.9 L1530.6 133.9 L1532.6 133.7 L1534.5 133.3 L1536.4 132.8 L1538.3 132.4 L1540.3 132.5 L1542.2 132.9 L1544.1 133.5 L1546 133.9 L1548 133.9 L1549.9 133.6 L1551.8 133 L1553.7 132.3 L1555.7 131.5 L1557.6 130.8 L1559.5 130.4 L1561.4 130.4 L1563.4 130.8 L1565.3 131.3 L1567.2 131.6 L1569.1 131.5 L1571.1 130.9 L1573 130.1 L1574.9 129.5 L1576.8 129.1 L1578.8 128.8 L1580.7 128.2 L1582.6 127.4 L1584.5 126.7 L1586.5 126.3 L1588.4 126.4 L1590.3 126.9 L1592.2 127.8 L1594.2 128.7 L1596.1 129.4 L1598 129.5 L1599.9 129 L1601.9 128 L1603.8 127.1 L1605.7 126.7 L1607.6 126.8 L1609.6 127.1 L1611.5 126.9 L1613.4 126.4 L1615.3 125.7 L1617.3 125.3 L1619.2 125" fill="none" stroke="#0000ff" stroke-width="4" stroke-linejoin="round" stroke-linecap="round"/>
<circle cx="464.2" cy="1152.2" r="21.2" fill="none" stroke="#0000ff" stroke-width="2.9"/><path d="M464.2 1131V1173.4M443 1152.2H485.4" stroke="#0000ff" stroke-width="2.6"/>
<circle cx="512.3" cy="1150.4" r="21.2" fill="none" stroke="#0000ff" stroke-width="2.9"/><path d="M512.3 1129.2V1171.6M491.1 1150.4H533.5" stroke="#0000ff" stroke-width="2.6"/>
<circle cx="560.5" cy="1147.4" r="21.2" fill="none" stroke="#0000ff" stroke-width="2.9"/><path d="M560.5 1126.2V1168.6M539.2 1147.4H581.7" stroke="#0000ff" stroke-width="2.6"/>
<circle cx="608.6" cy="1143.6" r="21.2" fill="none" stroke="#0000ff" stroke-width="2.9"/><path d="M608.6 1122.4V1164.8M587.4 1143.6H629.8" stroke="#0000ff" stroke-width="2.6"/>
<circle cx="656.7" cy="1091.3" r="21.2" fill="none" stroke="#0000ff" stroke-width="2.9"/><path d="M656.7 1070.1V1112.5M635.5 1091.3H677.9" stroke="#0000ff" stroke-width="2.6"/>
<circle cx="704.8" cy="814" r="21.2" fill="none" stroke="#0000ff" stroke-width="2.9"/><path d="M704.8 792.8V835.2M683.6 814H726" stroke="#0000ff" stroke-width="2.6"/>
<circle cx="753" cy="505.8" r="21.2" fill="none" stroke="#0000ff" stroke-width="2.9"/><path d="M753 484.6V527M731.8 505.8H774.2" stroke="#0000ff" stroke-width="2.6"/>
<circle cx="801.1" cy="344.6" r="21.2" fill="none" stroke="#0000ff" stroke-width="2.9"/><path d="M801.1 323.4V365.8M779.9 344.6H822.3" stroke="#0000ff" stroke-width="2.6"/>
<circle cx="849.2" cy="269" r="21.2" fill="none" stroke="#0000ff" stroke-width="2.9"/><path d="M849.2 247.8V290.2M828 269H870.4" stroke="#0000ff" stroke-width="2.6"/>
<circle cx="897.3" cy="226.4" r="21.2" fill="none" stroke="#0000ff" stroke-width="2.9"/><path d="M897.3 205.2V247.6M876.1 226.4H918.5" stroke="#0000ff" stroke-width="2.6"/>
<circle cx="945.5" cy="204.1" r="21.2" fill="none" stroke="#0000ff" stroke-width="2.9"/><path d="M945.5 182.9V225.3M924.2 204.1H966.7" stroke="#0000ff" stroke-width="2.6"/>
<circle cx="993.6" cy="187.4" r="21.2" fill="none" stroke="#0000ff" stroke-width="2.9"/><path d="M993.6 166.2V208.6M972.4 187.4H1014.8" stroke="#0000ff" stroke-width="2.6"/>
<circle cx="1041.7" cy="175.3" r="21.2" fill="none" stroke="#0000ff" stroke-width="2.9"/><path d="M1041.7 154.1V196.5M1020.5 175.3H1062.9" stroke="#0000ff" stroke-width="2.6"/>
<circle cx="1089.8" cy="168.5" r="21.2" fill="none" stroke="#0000ff" stroke-width="2.9"/><path d="M1089.8 147.3V189.7M1068.6 168.5H1111" stroke="#0000ff" stroke-width="2.6"/>
<circle cx="1138" cy="162.8" r="21.2" fill="none" stroke="#0000ff" stroke-width="2.9"/><path d="M1138 141.6V184M1116.8 162.8H1159.2" stroke="#0000ff" stroke-width="2.6"/>
<circle cx="1186.1" cy="157.6" r="21.2" fill="none" stroke="#0000ff" stroke-width="2.9"/><path d="M1186.1 136.4V178.8M1164.9 157.6H1207.3" stroke="#0000ff" stroke-width="2.6"/>
<circle cx="1234.2" cy="153.8" r="21.2" fill="none" stroke="#0000ff" stroke-width="2.9"/><path d="M1234.2 132.6V175M1213 153.8H1255.4" stroke="#0000ff" stroke-width="2.6"/>
<circle cx="1282.3" cy="150.7" r="21.2" fill="none" stroke="#0000ff" stroke-width="2.9"/><path d="M1282.3 129.5V171.9M1261.1 150.7H1303.5" stroke="#0000ff" stroke-width="2.6"/>
<circle cx="1330.5" cy="147.7" r="21.2" fill="none" stroke="#0000ff" stroke-width="2.9"/><path d="M1330.5 126.5V168.9M1309.2 147.7H1351.7" stroke="#0000ff" stroke-width="2.6"/>
<circle cx="1378.6" cy="143.3" r="21.2" fill="none" stroke="#0000ff" stroke-width="2.9"/><path d="M1378.6 122.1V164.5M1357.4 143.3H1399.8" stroke="#0000ff" stroke-width="2.6"/>
<circle cx="1426.7" cy="141.7" r="21.2" fill="none" stroke="#0000ff" stroke-width="2.9"/><path d="M1426.7 120.5V162.9M1405.5 141.7H1447.9" stroke="#0000ff" stroke-width="2.6"/>
<circle cx="1474.8" cy="137.8" r="21.2" fill="none" stroke="#0000ff" stroke-width="2.9"/><path d="M1474.8 116.6V159M1453.6 137.8H1496" stroke="#0000ff" stroke-width="2.6"/>
<circle cx="1523" cy="135.1" r="21.2" fill="none" stroke="#0000ff" stroke-width="2.9"/><path d="M1523 113.9V156.3M1501.8 135.1H1544.2" stroke="#0000ff" stroke-width="2.6"/>
<circle cx="1571.1" cy="129.8" r="21.2" fill="none" stroke="#0000ff" stroke-width="2.9"/><path d="M1571.1 108.6V151M1549.9 129.8H1592.3" stroke="#0000ff" stroke-width="2.6"/>
<circle cx="1619.2" cy="126.5" r="21.2" fill="none" stroke="#0000ff" stroke-width="2.9"/><path d="M1619.2 105.3V147.7M1598 126.5H1640.4" stroke="#0000ff" stroke-width="2.6"/>
</g>
<g class="sans" font-size="60" fill="#000">
<text transform="translate(248.5 1168.5) scale(1 1.05)" text-anchor="end">0.0</text>
<text transform="translate(248.5 985.1) scale(1 1.05)" text-anchor="end">0.1</text>
<text transform="translate(248.5 801.6) scale(1 1.05)" text-anchor="end">0.2</text>
<text transform="translate(248.5 618.2) scale(1 1.05)" text-anchor="end">0.3</text>
<text transform="translate(248.5 434.8) scale(1 1.05)" text-anchor="end">0.4</text>
<text transform="translate(248.5 251.4) scale(1 1.05)" text-anchor="end">0.5</text>
<text transform="translate(248.5 67.9) scale(1 1.05)" text-anchor="end">0.6</text>
<text transform="translate(272.3 1268.3) scale(1 1.05)" text-anchor="middle">-7</text>
<text transform="translate(464.8 1268.3) scale(1 1.05)" text-anchor="middle">-6</text>
<text transform="translate(657.3 1268.3) scale(1 1.05)" text-anchor="middle">-5</text>
<text transform="translate(849.8 1268.3) scale(1 1.05)" text-anchor="middle">-4</text>
<text transform="translate(1042.3 1268.3) scale(1 1.05)" text-anchor="middle">-3</text>
<text transform="translate(1234.8 1268.3) scale(1 1.05)" text-anchor="middle">-2</text>
<text transform="translate(1427.3 1268.3) scale(1 1.05)" text-anchor="middle">-1</text>
<text transform="translate(1619.8 1268.3) scale(1 1.05)" text-anchor="middle">0</text>
<text transform="translate(1812.3 1268.3) scale(1 1.05)" text-anchor="middle">1</text>
</g>
<text class="serif" x="798.3" y="1357.2" font-size="88">Gate Bias (V)</text>
<text class="serif" font-size="89.4" transform="translate(125.8 1053.3) rotate(-90)">Capacitance (µF/cm<tspan font-size="55" dy="-49">-2</tspan><tspan dy="49">)</tspan></text>
<text class="serif" x="385" y="154.3" font-size="88">1 MHz</text>
<g class="serif" font-size="51.3" fill="#000">
<text x="746.2" y="825.4">SiN = 5 nm</text>
<path d="M747.6 871.6H863.1" stroke="#000" stroke-width="4.5" stroke-linecap="round"/>
<rect x="784.5" y="850.8" width="41.6" height="41.6" fill="#000"/>
<text x="876" y="889">Before Radiation</text>
<path d="M747.6 935.2H863.1" stroke="#000" stroke-width="4.5" stroke-linecap="round"/>
<rect x="786.2" y="916.1" width="38.2" height="38.2" fill="#fff" stroke="#000" stroke-width="3.2"/>
<text x="876" y="952.6">0.9 Mrad,</text>
<path d="M1089.5 935.2H1205.2" stroke="#000" stroke-width="4.5" stroke-linecap="round"/>
<rect x="1128.1" y="916.1" width="38.2" height="38.2" fill="none" stroke="#000" stroke-width="3.2"/><path d="M1147.2 916.1V954.3M1128.1 935.2H1166.3" stroke="#000" stroke-width="2.7"/>
<text x="1217.8" y="952.6">3.6 Mrad</text>
<text x="746" y="1016.3">HfO<tspan font-size="32" dy="20.3">2</tspan><tspan dy="-20.3"> = 5 nm</tspan></text>
<path d="M747.6 1079.9H863.1" stroke="#0000ff" stroke-width="4.5" stroke-linecap="round"/>
<circle cx="805.3" cy="1079.9" r="23" fill="#0000ff"/>
<text x="876" y="1096.9">Before Radiation</text>
<path d="M747.6 1143.5H863.1" stroke="#0000ff" stroke-width="4.5" stroke-linecap="round"/>
<circle cx="805.3" cy="1143.5" r="21.6" fill="#fff" stroke="#0000ff" stroke-width="2.8"/>
<text x="876" y="1160.5">0.9 Mrad,</text>
<path d="M1089.5 1143.5H1205.2" stroke="#0000ff" stroke-width="4.5" stroke-linecap="round"/>
<circle cx="1147.2" cy="1143.5" r="21.6" fill="none" stroke="#0000ff" stroke-width="2.8"/><path d="M1147.2 1121.9V1165.1M1125.6 1143.5H1168.8" stroke="#0000ff" stroke-width="2.5"/>
<text x="1217.8" y="1160.5">3.6 Mrad</text>
</g>
<rect x="1149.3" y="357" width="570.4" height="432" fill="#fff"/>
<g clip-path="url(#ci)">
<path d="M1149.3 768.5 L1151.3 768.4 L1153.3 768.4 L1155.3 768.3 L1157.3 768.3 L1159.3 768.2 L1161.3 768.1 L1163.3 768.1 L1165.3 768 L1167.3 767.9 L1169.3 767.9 L1171.3 767.8 L1173.3 767.8 L1175.3 767.7 L1177.3 767.6 L1179.3 767.6 L1181.3 767.5 L1183.3 767.5 L1185.3 767.4 L1187.3 767.3 L1189.3 767.3 L1191.3 767.2 L1193.3 767.1 L1195.3 767.1 L1197.3 767 L1199.3 767 L1201.3 766.9 L1203.3 766.8 L1205.3 766.8 L1207.3 766.7 L1209.3 766.7 L1211.3 766.6 L1213.3 766.5 L1215.3 766.5 L1217.3 766.4 L1219.3 766.4 L1221.3 766.3 L1223.3 766.2 L1225.3 766.2 L1227.3 766.1 L1229.3 766 L1231.3 766 L1233.3 765.9 L1235.3 765.8 L1237.2 765.7 L1239.2 765.5 L1241.2 765.3 L1243.2 765 L1245.2 764.7 L1247.1 764.3 L1249.1 764 L1251 763.6 L1253 763.2 L1255 762.8 L1256.9 762.4 L1258.9 762 L1260.9 761.6 L1262.8 761.3 L1264.8 761 L1266.8 760.8 L1268.8 760.6 L1270.8 760.4 L1272.7 760.2 L1274.7 760.1 L1276.7 760 L1278.7 759.8 L1280.7 759.7 L1282.7 759.5 L1284.7 759.3 L1286.6 759 L1288.6 758.7 L1290.5 758.2 L1292.4 757.7 L1294.3 757 L1296.1 756.3 L1297.9 755.5 L1299.8 754.7 L1301.6 753.9 L1303.4 753 L1305.2 752.2 L1307 751.3 L1308.8 750.4 L1310.6 749.5 L1312.4 748.6 L1314.2 747.7 L1315.9 746.8 L1317.7 745.9 L1319.4 744.9 L1321.1 743.9 L1322.8 742.8 L1324.4 741.7 L1326.1 740.5 L1327.7 739.3 L1329.3 738.1 L1330.9 737 L1332.5 735.8 L1334.2 734.7 L1335.8 733.6 L1337.5 732.5 L1339.2 731.5 L1340.9 730.4 L1342.5 729.3 L1344.2 728.1 L1345.8 727 L1347.4 725.8 L1348.9 724.5 L1350.4 723.1 L1351.8 721.8 L1353.2 720.4 L1354.6 718.9 L1356 717.5 L1357.3 716 L1358.5 714.4 L1359.8 712.9 L1361 711.3 L1362.2 709.7 L1363.3 708 L1364.5 706.4 L1365.7 704.8 L1366.8 703.2 L1368 701.5 L1369.2 699.9 L1370.4 698.3 L1371.5 696.7 L1372.7 695.1 L1373.9 693.4 L1375 691.8 L1376.2 690.2 L1377.3 688.5 L1378.4 686.9 L1379.5 685.2 L1380.6 683.5 L1381.6 681.8 L1382.7 680.1 L1383.7 678.4 L1384.7 676.7 L1385.8 675 L1386.8 673.2 L1387.8 671.5 L1388.8 669.8 L1389.8 668.1 L1390.8 666.3 L1391.8 664.6 L1392.8 662.9 L1393.8 661.1 L1394.8 659.4 L1395.8 657.7 L1396.8 655.9 L1397.8 654.2 L1398.8 652.5 L1399.8 650.7 L1400.9 649 L1401.9 647.3 L1403 645.7 L1404.1 644 L1405.2 642.3 L1406.3 640.7 L1407.5 639 L1408.6 637.4 L1409.7 635.7 L1410.9 634.1 L1412 632.4 L1413.1 630.8 L1414.2 629.1 L1415.2 627.4 L1416.2 625.7 L1417.1 623.9 L1418 622.1 L1418.8 620.3 L1419.6 618.5 L1420.4 616.6 L1421.2 614.8 L1422 613 L1422.8 611.1 L1423.6 609.3 L1424.4 607.5 L1425.3 605.7 L1426.1 603.9 L1427 602.1 L1427.9 600.3 L1428.8 598.5 L1429.7 596.7 L1430.6 594.9 L1431.6 593.2 L1432.5 591.4 L1433.4 589.6 L1434.3 587.8 L1435.2 586.1 L1436.1 584.3 L1437 582.5 L1438 580.7 L1438.9 578.9 L1439.8 577.2 L1440.7 575.4 L1441.6 573.6 L1442.5 571.8 L1443.4 570 L1444.4 568.3 L1445.3 566.5 L1446.2 564.7 L1447.1 562.9 L1448 561.2 L1448.9 559.4 L1449.9 557.6 L1450.8 555.8 L1451.7 554.1 L1452.7 552.3 L1453.6 550.5 L1454.5 548.8 L1455.5 547 L1456.5 545.3 L1457.4 543.5 L1458.4 541.7 L1459.3 540 L1460.3 538.2 L1461.2 536.5 L1462.2 534.7 L1463.1 533 L1464.1 531.2 L1465.1 529.4 L1466 527.7 L1467 525.9 L1467.9 524.2 L1468.9 522.4 L1469.8 520.7 L1470.8 518.9 L1471.8 517.1 L1472.7 515.4 L1473.7 513.6 L1474.6 511.9 L1475.6 510.1 L1476.5 508.4 L1477.5 506.6 L1478.5 504.9 L1479.5 503.1 L1480.5 501.4 L1481.5 499.7 L1482.5 497.9 L1483.5 496.2 L1484.5 494.5 L1485.6 492.8 L1486.6 491.1 L1487.6 489.4 L1488.6 487.6 L1489.7 485.9 L1490.7 484.2 L1491.7 482.5 L1492.8 480.8 L1493.8 479.1 L1494.8 477.4 L1495.9 475.7 L1496.9 473.9 L1497.9 472.2 L1499 470.5 L1500 468.8 L1501.1 467.1 L1502.1 465.4 L1503.2 463.7 L1504.2 462 L1505.3 460.3 L1506.3 458.6 L1507.4 456.9 L1508.5 455.2 L1509.5 453.5 L1510.6 451.8 L1511.7 450.2 L1512.7 448.5 L1513.8 446.7 L1514.8 445 L1515.8 443.3 L1516.8 441.6 L1517.7 439.8 L1518.7 438.1 L1519.7 436.3 L1520.7 434.6 L1521.7 432.9 L1522.8 431.2 L1523.8 429.5 L1524.8 427.8 L1525.8 426 L1526.9 424.3 L1527.9 422.6 L1528.8 420.8 L1529.8 419.1 L1530.8 417.4 L1531.8 415.6 L1532.8 413.9 L1533.8 412.2 L1534.9 410.5 L1535.9 408.8 L1537 407.1 L1538 405.4 L1539.1 403.7 L1540.2 402 L1541.3 400.3 L1542.4 398.6 L1543.5 397 L1544.6 395.3 L1545.7 393.7 L1546.9 392 L1548.1 390.4 L1549.3 388.9 L1550.5 387.3 L1551.8 385.8 L1553.1 384.2 L1554.3 382.7 L1555.6 381.1 L1556.8 379.5 L1558 377.9 L1559.2 376.3 L1560.3 374.7 L1561.5 373 L1562.6 371.4 L1563.7 369.7 L1564.9 368.1 L1566 366.5 L1567.2 364.8 L1568.4 363.3 L1569.6 361.7 L1570.9 360.1 L1572.1 358.6 L1573.4 357.1 L1574.7 355.5" fill="none" stroke="#000" stroke-width="1.6" stroke-linejoin="round" stroke-linecap="round"/>
<rect x="1226.4" y="756" width="15.1" height="15.1" fill="#000"/>
<rect x="1321.9" y="730.2" width="15.1" height="15.1" fill="#000"/>
<rect x="1417" y="599.4" width="15.1" height="15.1" fill="#000"/>
<rect x="1511.9" y="429.1" width="15.1" height="15.1" fill="#000"/>
<path d="M1149.3 768 L1151.3 767.9 L1153.3 767.9 L1155.3 767.8 L1157.3 767.8 L1159.3 767.7 L1161.3 767.6 L1163.3 767.6 L1165.3 767.5 L1167.3 767.5 L1169.3 767.4 L1171.3 767.4 L1173.3 767.3 L1175.3 767.2 L1177.3 767.2 L1179.3 767.1 L1181.3 767.1 L1183.3 767 L1185.3 766.9 L1187.3 766.9 L1189.3 766.8 L1191.3 766.8 L1193.3 766.7 L1195.3 766.6 L1197.3 766.6 L1199.3 766.5 L1201.3 766.5 L1203.3 766.4 L1205.3 766.3 L1207.3 766.3 L1209.3 766.2 L1211.3 766.2 L1213.3 766.1 L1215.3 766.1 L1217.3 766 L1219.3 765.9 L1221.3 765.9 L1223.3 765.8 L1225.3 765.7 L1227.3 765.6 L1229.2 765.4 L1231.2 765.2 L1233.2 765 L1235.2 764.7 L1237.1 764.3 L1239.1 764 L1241.1 763.6 L1243 763.3 L1245 762.9 L1247 762.5 L1248.9 762.2 L1250.9 761.8 L1252.9 761.4 L1254.8 761 L1256.8 760.6 L1258.7 760.2 L1260.7 759.8 L1262.6 759.2 L1264.4 758.6 L1266.3 757.9 L1268 757 L1269.8 756.1 L1271.5 755.1 L1273.2 754.1 L1274.9 753 L1276.6 752 L1278.3 750.9 L1280 749.9 L1281.7 748.8 L1283.4 747.8 L1285.1 746.7 L1286.8 745.6 L1288.5 744.6 L1290.2 743.5 L1291.9 742.4 L1293.6 741.4 L1295.2 740.3 L1296.9 739.1 L1298.5 738 L1300.1 736.8 L1301.7 735.6 L1303.3 734.4 L1304.9 733.1 L1306.4 731.9 L1308 730.7 L1309.7 729.6 L1311.3 728.5 L1313 727.5 L1314.8 726.5 L1316.5 725.6 L1318.3 724.7 L1320 723.8 L1321.6 722.7 L1323.1 721.6 L1324.5 720.3 L1325.7 718.8 L1326.9 717.3 L1328 715.6 L1329.1 714 L1330.2 712.4 L1331.4 710.7 L1332.6 709.1 L1333.8 707.6 L1335 706 L1336.3 704.5 L1337.6 702.9 L1338.9 701.4 L1340.2 699.9 L1341.5 698.4 L1342.8 696.9 L1344.1 695.4 L1345.4 693.8 L1346.6 692.2 L1347.8 690.6 L1349 689 L1350.1 687.4 L1351.2 685.7 L1352.3 684 L1353.4 682.3 L1354.4 680.6 L1355.5 679 L1356.6 677.3 L1357.6 675.6 L1358.7 673.9 L1359.8 672.2 L1360.8 670.5 L1361.9 668.8 L1363 667.1 L1364 665.4 L1365.1 663.7 L1366.2 662 L1367.2 660.4 L1368.3 658.7 L1369.4 657 L1370.4 655.3 L1371.5 653.6 L1372.6 651.9 L1373.7 650.2 L1374.7 648.5 L1375.8 646.8 L1376.9 645.1 L1377.9 643.5 L1379 641.8 L1380.1 640.1 L1381.1 638.4 L1382.2 636.7 L1383.2 635 L1384.3 633.3 L1385.3 631.6 L1386.3 629.8 L1387.2 628.1 L1388.1 626.3 L1389 624.5 L1389.8 622.7 L1390.6 620.8 L1391.5 619 L1392.3 617.2 L1393.1 615.4 L1393.9 613.5 L1394.7 611.7 L1395.5 609.9 L1396.3 608.1 L1397.1 606.2 L1398 604.4 L1398.8 602.6 L1399.6 600.8 L1400.5 599 L1401.4 597.2 L1402.3 595.4 L1403.1 593.6 L1404 591.8 L1404.9 590 L1405.8 588.2 L1406.7 586.4 L1407.7 584.7 L1408.6 582.9 L1409.5 581.1 L1410.4 579.3 L1411.3 577.5 L1412.2 575.7 L1413.1 573.9 L1414 572.2 L1414.9 570.4 L1415.8 568.6 L1416.7 566.8 L1417.6 565 L1418.5 563.3 L1419.5 561.5 L1420.5 559.8 L1421.5 558.1 L1422.5 556.3 L1423.5 554.6 L1424.5 552.9 L1425.5 551.1 L1426.5 549.4 L1427.4 547.6 L1428.4 545.9 L1429.3 544.1 L1430.3 542.4 L1431.2 540.6 L1432.2 538.8 L1433.1 537.1 L1434 535.3 L1435 533.5 L1435.9 531.8 L1436.9 530 L1437.8 528.2 L1438.7 526.5 L1439.7 524.7 L1440.6 522.9 L1441.6 521.2 L1442.5 519.4 L1443.5 517.7 L1444.4 515.9 L1445.3 514.1 L1446.3 512.4 L1447.2 510.6 L1448.2 508.8 L1449.1 507.1 L1450.1 505.3 L1451 503.6 L1452 501.8 L1453 500.1 L1454 498.4 L1455.1 496.7 L1456.1 494.9 L1457.1 493.2 L1458.2 491.5 L1459.2 489.8 L1460.3 488.1 L1461.3 486.4 L1462.3 484.7 L1463.4 483 L1464.4 481.3 L1465.5 479.6 L1466.5 477.9 L1467.5 476.2 L1468.6 474.4 L1469.6 472.7 L1470.7 471 L1471.7 469.3 L1472.7 467.6 L1473.8 465.9 L1474.8 464.2 L1475.9 462.5 L1476.9 460.8 L1477.9 459.1 L1479 457.4 L1480 455.6 L1481 453.9 L1482 452.2 L1483.1 450.5 L1484.1 448.8 L1485.1 447 L1486.1 445.3 L1487.1 443.6 L1488.1 441.9 L1489.2 440.1 L1490.2 438.4 L1491.2 436.7 L1492.2 435 L1493.2 433.3 L1494.2 431.5 L1495.3 429.8 L1496.3 428.1 L1497.4 426.4 L1498.4 424.7 L1499.5 423 L1500.5 421.3 L1501.6 419.6 L1502.7 418 L1503.8 416.3 L1504.9 414.6 L1505.9 412.9 L1507 411.2 L1508.1 409.5 L1509.2 407.9 L1510.3 406.2 L1511.3 404.5 L1512.4 402.8 L1513.5 401.1 L1514.6 399.4 L1515.6 397.7 L1516.7 396.1 L1517.8 394.4 L1518.9 392.7 L1520.1 391.1 L1521.3 389.6 L1522.6 388 L1523.8 386.4 L1525.1 384.9 L1526.3 383.3 L1527.5 381.7 L1528.6 380.1 L1529.8 378.5 L1530.9 376.8 L1532.1 375.2 L1533.2 373.6 L1534.4 371.9 L1535.6 370.4 L1536.9 368.8 L1538.1 367.2 L1539.3 365.6 L1540.5 364 L1541.7 362.4 L1543 360.9 L1544.1 359.2 L1545.3 357.6 L1546.5 356 L1547.7 354.4" fill="none" stroke="#000" stroke-width="1.6" stroke-linejoin="round" stroke-linecap="round"/>
<rect x="1227" y="753.6" width="13.8" height="13.8" fill="#fff" stroke="#000" stroke-width="1.25"/>
<rect x="1322.5" y="706.1" width="13.8" height="13.8" fill="#fff" stroke="#000" stroke-width="1.25"/>
<rect x="1417.7" y="546.1" width="13.8" height="13.8" fill="#fff" stroke="#000" stroke-width="1.25"/>
<rect x="1512.5" y="384.6" width="13.8" height="13.8" fill="#fff" stroke="#000" stroke-width="1.25"/>
<path d="M1149.3 767.5 L1151.3 767.4 L1153.3 767.3 L1155.3 767.3 L1157.3 767.2 L1159.3 767.1 L1161.3 767 L1163.3 767 L1165.3 766.9 L1167.3 766.8 L1169.3 766.7 L1171.3 766.7 L1173.3 766.6 L1175.3 766.5 L1177.3 766.4 L1179.3 766.3 L1181.3 766.2 L1183.3 766 L1185.3 765.8 L1187.2 765.6 L1189.2 765.4 L1191.2 765.2 L1193.2 764.9 L1195.2 764.7 L1197.2 764.4 L1199.1 764.2 L1201.1 763.9 L1203.1 763.6 L1205.1 763.3 L1207 762.9 L1209 762.5 L1210.9 762.1 L1212.9 761.6 L1214.8 761.1 L1216.8 760.7 L1218.7 760.2 L1220.7 759.8 L1222.6 759.3 L1224.6 758.8 L1226.5 758.4 L1228.5 757.9 L1230.4 757.5 L1232.4 757 L1234.3 756.6 L1236.3 756.1 L1238.2 755.7 L1240.2 755.3 L1242.1 754.9 L1244 754.4 L1245.9 753.9 L1247.8 753.2 L1249.7 752.5 L1251.5 751.7 L1253.2 750.8 L1255 749.9 L1256.7 748.9 L1258.4 747.9 L1260.1 746.8 L1261.9 745.8 L1263.6 744.8 L1265.3 743.8 L1267 742.7 L1268.7 741.7 L1270.4 740.6 L1272 739.5 L1273.7 738.3 L1275.3 737.1 L1276.9 735.9 L1278.5 734.7 L1280 733.5 L1281.6 732.3 L1283.2 731 L1284.8 729.8 L1286.3 728.5 L1287.8 727.3 L1289.3 725.9 L1290.7 724.5 L1292 723 L1293.2 721.5 L1294.4 719.9 L1295.5 718.3 L1296.6 716.6 L1297.7 714.9 L1298.8 713.3 L1299.9 711.6 L1301 709.9 L1302.1 708.2 L1303.2 706.6 L1304.3 704.9 L1305.4 703.2 L1306.5 701.5 L1307.6 699.9 L1308.7 698.2 L1309.9 696.6 L1311.1 695.1 L1312.4 693.5 L1313.6 692 L1314.9 690.4 L1316.2 688.9 L1317.5 687.4 L1318.8 685.9 L1320.1 684.3 L1321.4 682.8 L1322.7 681.3 L1324 679.8 L1325.3 678.2 L1326.5 676.7 L1327.8 675.1 L1328.9 673.5 L1330.1 671.9 L1331.2 670.2 L1332.2 668.5 L1333.3 666.8 L1334.3 665.1 L1335.3 663.4 L1336.3 661.6 L1337.3 659.9 L1338.3 658.2 L1339.3 656.4 L1340.3 654.7 L1341.3 653 L1342.3 651.3 L1343.3 649.5 L1344.3 647.8 L1345.4 646.1 L1346.5 644.4 L1347.6 642.8 L1348.7 641.1 L1349.9 639.5 L1351.1 637.9 L1352.4 636.4 L1353.6 634.8 L1354.8 633.2 L1356 631.6 L1357.1 630 L1358.2 628.3 L1359.2 626.6 L1360.2 624.9 L1361.1 623.1 L1362 621.3 L1362.9 619.5 L1363.7 617.7 L1364.6 615.9 L1365.5 614.1 L1366.3 612.3 L1367.2 610.5 L1368 608.7 L1368.9 606.9 L1369.8 605.1 L1370.6 603.3 L1371.5 601.5 L1372.4 599.7 L1373.2 597.9 L1374.1 596.1 L1375 594.3 L1375.8 592.5 L1376.7 590.7 L1377.6 588.9 L1378.5 587.1 L1379.3 585.3 L1380.2 583.5 L1381.1 581.7 L1382 579.9 L1382.8 578.1 L1383.7 576.3 L1384.6 574.5 L1385.4 572.7 L1386.3 570.9 L1387.2 569.1 L1388.1 567.3 L1388.9 565.5 L1389.8 563.7 L1390.7 561.9 L1391.6 560.1 L1392.5 558.3 L1393.4 556.5 L1394.3 554.8 L1395.3 553 L1396.3 551.3 L1397.3 549.6 L1398.4 547.9 L1399.5 546.2 L1400.5 544.5 L1401.6 542.8 L1402.7 541.2 L1403.8 539.5 L1404.8 537.8 L1405.9 536.1 L1407 534.4 L1408.1 532.7 L1409.1 531 L1410.2 529.3 L1411.2 527.6 L1412.2 525.9 L1413.2 524.1 L1414.2 522.4 L1415.2 520.7 L1416.1 518.9 L1417.1 517.2 L1418.1 515.4 L1419.1 513.7 L1420 511.9 L1421 510.2 L1422 508.4 L1422.9 506.7 L1423.9 504.9 L1424.8 503.2 L1425.8 501.4 L1426.7 499.6 L1427.6 497.8 L1428.5 496.1 L1429.4 494.3 L1430.3 492.5 L1431.2 490.7 L1432.2 488.9 L1433.1 487.2 L1434 485.4 L1434.9 483.6 L1435.8 481.8 L1436.7 480 L1437.6 478.2 L1438.5 476.5 L1439.4 474.7 L1440.3 472.9 L1441.2 471.1 L1442.2 469.4 L1443.1 467.6 L1444.1 465.8 L1445 464.1 L1446 462.3 L1447 460.6 L1448 458.8 L1448.9 457.1 L1449.9 455.4 L1450.9 453.6 L1451.9 451.9 L1452.9 450.1 L1453.8 448.4 L1454.8 446.6 L1455.8 444.9 L1456.8 443.2 L1457.8 441.5 L1458.9 439.8 L1459.9 438.1 L1461 436.4 L1462.1 434.7 L1463.2 433.1 L1464.4 431.4 L1465.5 429.7 L1466.6 428.1 L1467.7 426.4 L1468.9 424.8 L1470 423.1 L1471.1 421.5 L1472.3 419.8 L1473.4 418.2 L1474.5 416.5 L1475.6 414.9 L1476.8 413.2 L1477.9 411.6 L1479 409.9 L1480.2 408.3 L1481.3 406.7 L1482.5 405 L1483.6 403.4 L1484.8 401.8 L1486 400.1 L1487.1 398.5 L1488.3 396.9 L1489.4 395.2 L1490.6 393.6 L1491.7 392 L1492.9 390.3 L1494.1 388.7 L1495.2 387.1 L1496.4 385.4 L1497.5 383.8 L1498.6 382.2 L1499.8 380.5 L1500.9 378.8 L1502 377.2 L1503.1 375.5 L1504.2 373.8 L1505.3 372.2 L1506.4 370.5 L1507.5 368.8 L1508.6 367.1 L1509.6 365.4 L1510.7 363.8 L1511.7 362 L1512.7 360.3 L1513.7 358.6 L1514.6 356.8 L1515.5 355" fill="none" stroke="#000" stroke-width="1.6" stroke-linejoin="round" stroke-linecap="round"/>
<rect x="1227" y="749.7" width="13.8" height="13.8" fill="none" stroke="#000" stroke-width="1.25"/><path d="M1233.9 749.7V763.5M1227 756.6H1240.8" stroke="#000" stroke-width="1.2"/>
<rect x="1322.5" y="666.6" width="13.8" height="13.8" fill="none" stroke="#000" stroke-width="1.25"/><path d="M1329.4 666.6V680.4M1322.5 673.5H1336.3" stroke="#000" stroke-width="1.2"/>
<rect x="1417.7" y="496.9" width="13.8" height="13.8" fill="none" stroke="#000" stroke-width="1.25"/><path d="M1424.6 496.9V510.7M1417.7 503.8H1431.5" stroke="#000" stroke-width="1.2"/>
<rect x="1512.5" y="349.4" width="13.8" height="13.8" fill="none" stroke="#000" stroke-width="1.25"/><path d="M1519.4 349.4V363.2M1512.5 356.3H1526.3" stroke="#000" stroke-width="1.2"/>
<path d="M1149.3 767.1 L1151.3 767.2 L1153.3 767.2 L1155.3 767.1 L1157.3 766.9 L1159.3 766.5 L1161.3 766.2 L1163.3 766.3 L1165.3 766.7 L1167.3 767.4 L1169.3 767.9 L1171.3 768.1 L1173.3 768 L1175.3 768 L1177.3 768.2 L1179.3 768.7 L1181.3 769.2 L1183.3 769.6 L1185.3 769.8 L1187.3 769.7 L1189.3 769.4 L1191.3 768.8 L1193.3 768.2 L1195.3 767.9 L1197.3 768.1 L1199.3 768.8 L1201.3 769.7 L1203.3 769.9 L1205.3 769.4 L1207.3 768.5 L1209.3 767.9 L1211.3 767.8 L1213.3 768 L1215.3 768.2 L1217.3 768.1 L1219.3 767.8 L1221.3 767.6 L1223.3 767.3 L1225.3 767 L1227.3 767.1 L1229.3 767.5 L1231.3 768 L1233.3 768.2 L1235.3 767.9 L1237.3 767.5 L1239.3 766.9 L1241.3 766.6 L1243.3 766.3 L1245.3 765.9 L1247.3 765.6 L1249.3 765.7 L1251.3 766 L1253.3 766.4 L1255.2 766.8 L1257.2 767.5 L1259.2 768.1 L1261.2 768.4 L1263.2 768.5 L1265.2 768.6 L1267.2 768.2 L1269.2 767.3 L1271.2 766.3 L1273.2 765.8 L1275.2 766 L1277.2 766.6 L1279.2 767.2 L1281.2 767.5 L1283.2 767.5 L1285.2 767.4 L1287.2 767.1 L1289.2 767 L1291.2 767.1 L1293.2 767.3 L1295.2 767.6 L1297.2 767.6 L1299.2 767.5 L1301.2 767.2 L1303.2 766.5 L1305.2 765.9 L1307.2 765.9 L1309.2 766.2 L1311.2 766.6 L1313.2 767 L1315.2 767.4 L1317.2 767.7 L1319.2 767.8 L1321.2 767.6 L1323.2 767.2 L1325.2 766.9 L1327.2 766.8 L1329.2 766.9 L1331.2 766.9 L1333.2 766.9 L1335.2 766.7 L1337.2 766.4 L1339.2 765.9 L1341.2 765.4 L1343.2 765 L1345.2 764.7 L1347.2 764.5 L1349.2 764.5 L1351.2 764.7 L1353.2 765 L1355.2 765.4 L1357.2 765.7 L1359.2 765.8 L1361.2 766 L1363.2 766.1 L1365.2 766.1 L1367.2 765.9 L1369.2 765.8 L1371.2 766 L1373.2 766.5 L1375.2 767 L1377.2 767.2 L1379.2 766.9 L1381.2 766.5 L1383.2 766.1 L1385.2 765.7 L1387.2 765.5 L1389.2 765.6 L1391.2 765.7 L1393.2 766 L1395.2 766.1 L1397.2 766 L1399.2 765.5 L1401.2 765 L1403.2 764.8 L1405.2 764.7 L1407.2 764.6 L1409.2 764.7 L1411.2 765 L1413.2 765.4 L1415.2 765.6 L1417.2 765.6 L1419.2 765.4 L1421.2 765 L1423.1 764.4 L1425.1 763.8 L1427.1 763.3 L1429.1 763.1 L1431.1 763.2 L1433.1 763.4 L1435.1 763.3 L1437.1 762.8 L1439.1 762.4 L1441.1 762 L1443.1 761.8 L1445.1 761.7 L1447 761.6 L1449 761.4 L1451 761 L1453 760.7 L1455 760.5 L1457 760.3 L1459 760 L1461 759.8 L1463 759.8 L1464.9 759.8 L1466.9 759.5 L1468.9 759 L1470.9 758.3 L1472.9 757.7 L1474.9 757.4 L1476.9 757.3 L1478.8 757.2 L1480.8 756.9 L1482.8 756.6 L1484.8 756.2 L1486.8 756.1 L1488.8 756.3 L1490.7 756.5 L1492.7 756.4 L1494.7 755.8 L1496.6 755.1 L1498.5 754.6 L1500.4 754.1 L1502.3 753.6 L1504.2 752.9 L1506 752.1 L1507.9 751.4 L1509.8 750.7 L1511.6 750 L1513.5 749.1 L1515.4 748.4 L1517.2 747.8 L1519.1 747.3 L1521.1 746.9 L1523 746.4 L1524.9 746 L1526.9 745.6 L1528.8 745.2 L1530.7 744.9 L1532.6 744.5 L1534.4 743.7 L1536.3 742.7 L1538 741.7 L1539.8 740.7 L1541.4 739.6 L1543 738.5 L1544.6 737.2 L1546.1 736 L1547.6 734.6 L1549 733.3 L1550.5 731.9 L1552 730.6 L1553.4 729.2 L1554.9 727.8 L1556.4 726.5 L1557.8 725.1 L1559.3 723.7 L1560.7 722.3 L1562.1 720.9 L1563.5 719.5 L1564.8 718 L1566.1 716.5 L1567.3 714.9 L1568.5 713.3 L1569.6 711.7 L1570.8 710 L1571.9 708.4 L1573 706.7 L1574.1 705.1 L1575.3 703.4 L1576.4 701.7 L1577.5 700.1 L1578.6 698.4 L1579.8 696.8 L1580.9 695.1 L1582 693.5 L1583.1 691.8 L1584.2 690.1 L1585.3 688.5 L1586.3 686.7 L1587.2 685 L1588.1 683.2 L1588.9 681.4 L1589.7 679.6 L1590.5 677.7 L1591.2 675.9 L1591.9 674 L1592.6 672.1 L1593.3 670.3 L1594 668.4 L1594.8 666.5 L1595.5 664.7 L1596.2 662.8 L1597 661 L1597.9 659.2 L1598.7 657.4 L1599.6 655.6 L1600.5 653.8 L1601.4 652 L1602.3 650.2 L1603.2 648.5 L1604.1 646.7 L1605 644.9 L1605.8 643 L1606.6 641.2 L1607.3 639.4 L1608.1 637.5 L1608.8 635.6 L1609.5 633.7 L1610.2 631.9 L1610.8 630 L1611.5 628.1 L1612.2 626.2 L1612.9 624.4 L1613.7 622.5 L1614.4 620.6 L1615.1 618.8 L1615.8 616.9 L1616.5 615 L1617.2 613.2 L1618 611.3 L1618.7 609.4 L1619.4 607.6 L1620.2 605.7 L1620.9 603.9 L1621.6 602 L1622.4 600.2 L1623.2 598.3 L1623.9 596.5 L1624.7 594.6 L1625.4 592.7 L1626.1 590.9 L1626.9 589 L1627.6 587.1 L1628.2 585.3 L1628.9 583.4 L1629.5 581.5 L1630.1 579.6 L1630.8 577.7 L1631.4 575.8 L1632 573.9 L1632.7 572 L1633.4 570.1 L1634.1 568.3 L1634.8 566.4 L1635.5 564.5 L1636.3 562.7 L1637.1 560.8 L1637.8 559 L1638.6 557.1 L1639.3 555.3 L1640.1 553.4 L1640.9 551.6 L1641.6 549.7 L1642.4 547.9 L1643.1 546 L1643.9 544.2 L1644.7 542.3 L1645.4 540.5 L1646.2 538.6 L1646.9 536.8 L1647.7 534.9 L1648.4 533.1 L1649.2 531.2 L1650 529.4 L1650.7 527.5 L1651.5 525.7 L1652.2 523.8 L1653 522 L1653.7 520.1 L1654.5 518.3 L1655.2 516.4 L1656 514.5 L1656.7 512.7 L1657.4 510.8 L1658.1 508.9 L1658.8 507.1 L1659.6 505.2 L1660.3 503.3 L1661 501.5 L1661.7 499.6 L1662.4 497.7 L1663.1 495.9 L1663.9 494 L1664.6 492.1 L1665.3 490.3 L1666 488.4 L1666.7 486.5 L1667.5 484.7 L1668.2 482.8 L1668.9 480.9 L1669.6 479.1 L1670.3 477.2 L1671 475.3 L1671.8 473.5 L1672.5 471.6 L1673.2 469.7 L1673.9 467.9 L1674.6 466 L1675.4 464.1 L1676.1 462.3 L1676.8 460.4 L1677.5 458.5 L1678.2 456.7 L1678.9 454.8 L1679.7 452.9 L1680.4 451.1 L1681.1 449.2 L1681.8 447.3 L1682.5 445.5 L1683.3 443.6 L1684 441.7 L1684.7 439.9 L1685.4 438 L1686.1 436.1 L1686.8 434.3 L1687.5 432.4 L1688.1 430.5 L1688.8 428.6 L1689.4 426.7 L1690.1 424.8 L1690.8 422.9 L1691.4 421 L1692.1 419.2 L1692.7 417.3 L1693.4 415.4 L1694 413.5 L1694.7 411.6 L1695.3 409.7 L1696 407.8 L1696.6 405.9 L1697.3 404 L1697.9 402.1 L1698.6 400.2 L1699.2 398.4 L1699.9 396.5 L1700.5 394.6 L1701.2 392.7 L1701.8 390.8 L1702.5 388.9 L1703.1 387 L1703.8 385.1 L1704.4 383.2 L1705.1 381.3 L1705.8 379.4 L1706.4 377.6 L1707.1 375.7 L1707.7 373.8 L1708.4 371.9 L1709 370 L1709.7 368.1 L1710.3 366.2 L1711 364.3 L1711.6 362.4 L1712.3 360.5 L1712.9 358.6 L1713.6 356.8" fill="none" stroke="#0000ff" stroke-width="1.6" stroke-linejoin="round" stroke-linecap="round"/>
<circle cx="1150" cy="768" r="8.1" fill="#0000ff"/>
<circle cx="1243.8" cy="767" r="8.1" fill="#0000ff"/>
<circle cx="1338.4" cy="766" r="8.1" fill="#0000ff"/>
<circle cx="1433.9" cy="763" r="8.1" fill="#0000ff"/>
<circle cx="1529.1" cy="747.4" r="8.1" fill="#0000ff"/>
<circle cx="1623.9" cy="597.1" r="8.1" fill="#0000ff"/>
<path d="M1149.3 766.2 L1151.3 766.4 L1153.3 766.7 L1155.3 766.9 L1157.3 767 L1159.3 767.1 L1161.3 767.3 L1163.3 767.5 L1165.3 767.6 L1167.3 767.4 L1169.3 767.1 L1171.3 767 L1173.3 767 L1175.3 767.2 L1177.3 767.5 L1179.3 767.5 L1181.3 767.3 L1183.3 767.1 L1185.3 767.2 L1187.3 767.6 L1189.3 767.8 L1191.3 767.8 L1193.3 767.8 L1195.3 768 L1197.3 768.2 L1199.3 768.2 L1201.3 767.9 L1203.3 767.5 L1205.3 767.1 L1207.3 766.7 L1209.3 766.6 L1211.3 766.7 L1213.3 767 L1215.3 767.3 L1217.3 767.3 L1219.3 767.4 L1221.3 767.5 L1223.3 767.4 L1225.3 767.2 L1227.3 767 L1229.3 766.8 L1231.3 766.6 L1233.3 766.7 L1235.3 767 L1237.2 767.3 L1239.2 767.2 L1241.2 766.7 L1243.2 766.1 L1245.2 765.8 L1247.2 765.8 L1249.2 766.2 L1251.2 766.8 L1253.2 767.1 L1255.2 767.2 L1257.2 767.1 L1259.2 767 L1261.2 766.6 L1263.2 766.3 L1265.2 765.9 L1267.2 765.6 L1269.2 765.6 L1271.2 765.7 L1273.2 766.1 L1275.2 766.5 L1277.2 767.1 L1279.2 767.9 L1281.2 768.4 L1283.2 768.4 L1285.2 768.3 L1287.2 768.3 L1289.2 768.1 L1291.2 767.6 L1293.2 767.1 L1295.2 766.6 L1297.2 766.5 L1299.2 766.6 L1301.2 766.7 L1303.2 766.5 L1305.2 766 L1307.2 765.7 L1309.2 765.9 L1311.2 766.3 L1313.2 766.7 L1315.2 766.8 L1317.2 766.5 L1319.2 766.1 L1321.2 766 L1323.2 766.3 L1325.2 766.6 L1327.2 766.5 L1329.2 766.1 L1331.2 765.5 L1333.2 765 L1335.2 764.7 L1337.2 764.9 L1339.2 765.4 L1341.2 766.1 L1343.2 766.5 L1345.2 766.4 L1347.2 766 L1349.2 765.5 L1351.2 765.2 L1353.2 765.1 L1355.2 765.1 L1357.2 765 L1359.2 765.1 L1361.2 765.2 L1363.2 765.4 L1365.2 765.5 L1367.2 765.6 L1369.2 765.5 L1371.2 765.2 L1373.2 764.9 L1375.2 764.8 L1377.2 764.6 L1379.2 764.4 L1381.2 764.5 L1383.2 764.9 L1385.2 765.3 L1387.2 765.6 L1389.2 765.6 L1391.2 765.4 L1393.2 765.2 L1395.2 764.9 L1397.2 764.5 L1399.2 764.1 L1401.2 763.8 L1403.2 763.8 L1405.2 763.9 L1407.2 764.1 L1409.2 764.1 L1411.2 764 L1413.2 763.9 L1415.2 763.8 L1417.2 763.8 L1419.2 764 L1421.1 764.3 L1423.1 764.5 L1425.1 764.4 L1427.1 763.8 L1429.1 763.1 L1431.1 762.7 L1433.1 762.5 L1435.1 762.5 L1437.1 762.2 L1439.1 761.7 L1441.1 761 L1443.1 760.5 L1445.1 760.3 L1447.1 760.3 L1449.1 760.4 L1451 760.5 L1453 760.4 L1455 760.2 L1457 760.1 L1459 760 L1461 759.8 L1463 759.4 L1465 758.9 L1466.9 758.4 L1468.9 758.1 L1470.9 758 L1472.9 758.1 L1474.8 758 L1476.8 757.7 L1478.8 757.3 L1480.8 757.1 L1482.8 757 L1484.7 756.8 L1486.7 756.7 L1488.6 756.2 L1490.6 755.4 L1492.5 754.5 L1494.4 753.8 L1496.3 753.2 L1498.2 752.8 L1500.1 752.5 L1502 752.1 L1503.9 751.6 L1505.8 750.9 L1507.7 750.2 L1509.6 749.5 L1511.5 748.6 L1513.4 747.8 L1515.3 746.9 L1517.2 746.2 L1519 745.5 L1520.9 745 L1522.8 744.4 L1524.6 743.6 L1526.4 742.8 L1528.2 741.9 L1529.9 740.9 L1531.5 739.8 L1533.1 738.7 L1534.6 737.4 L1536.1 736.1 L1537.5 734.7 L1538.9 733.3 L1540.3 731.8 L1541.6 730.3 L1542.9 728.8 L1544.2 727.3 L1545.4 725.7 L1546.7 724.2 L1548 722.6 L1549.2 721.1 L1550.5 719.5 L1551.8 718 L1553 716.4 L1554.3 714.9 L1555.6 713.3 L1556.8 711.8 L1558.1 710.3 L1559.4 708.7 L1560.6 707.1 L1561.9 705.6 L1563.1 704 L1564.2 702.4 L1565.3 700.7 L1566.4 699 L1567.4 697.3 L1568.4 695.6 L1569.4 693.8 L1570.3 692.1 L1571.3 690.3 L1572.2 688.5 L1573.1 686.8 L1574.1 685 L1575 683.3 L1576 681.5 L1576.9 679.7 L1577.9 678 L1578.8 676.2 L1579.8 674.4 L1580.7 672.7 L1581.6 670.9 L1582.6 669.2 L1583.5 667.4 L1584.5 665.6 L1585.4 663.9 L1586.4 662.1 L1587.3 660.3 L1588.2 658.5 L1589.1 656.8 L1590 655 L1591 653.2 L1591.9 651.4 L1592.8 649.6 L1593.7 647.9 L1594.5 646.1 L1595.4 644.3 L1596.3 642.5 L1597.1 640.6 L1597.9 638.8 L1598.7 637 L1599.5 635.2 L1600.3 633.3 L1601.1 631.5 L1601.9 629.7 L1602.7 627.8 L1603.5 626 L1604.3 624.1 L1605 622.3 L1605.8 620.4 L1606.5 618.6 L1607.2 616.7 L1607.9 614.8 L1608.5 612.9 L1609.2 611 L1609.9 609.2 L1610.5 607.3 L1611.2 605.4 L1611.8 603.5 L1612.5 601.6 L1613.2 599.7 L1613.8 597.8 L1614.5 595.9 L1615.1 594 L1615.8 592.2 L1616.5 590.3 L1617.2 588.4 L1617.9 586.5 L1618.5 584.6 L1619.3 582.8 L1620 580.9 L1620.7 579 L1621.4 577.2 L1622.1 575.3 L1622.8 573.4 L1623.6 571.6 L1624.3 569.7 L1625 567.8 L1625.7 566 L1626.5 564.1 L1627.2 562.3 L1627.9 560.4 L1628.6 558.5 L1629.3 556.7 L1630 554.8 L1630.7 552.9 L1631.4 551 L1632.1 549.2 L1632.8 547.3 L1633.5 545.4 L1634.2 543.5 L1634.8 541.6 L1635.5 539.7 L1636.2 537.9 L1636.8 536 L1637.5 534.1 L1638.2 532.2 L1638.8 530.3 L1639.5 528.4 L1640.2 526.5 L1640.8 524.7 L1641.5 522.8 L1642.2 520.9 L1642.9 519 L1643.5 517.1 L1644.2 515.2 L1644.9 513.4 L1645.5 511.5 L1646.2 509.6 L1646.9 507.7 L1647.5 505.8 L1648.2 503.9 L1648.9 502 L1649.5 500.2 L1650.2 498.3 L1650.9 496.4 L1651.5 494.5 L1652.2 492.6 L1652.9 490.7 L1653.6 488.9 L1654.2 487 L1654.9 485.1 L1655.6 483.2 L1656.3 481.3 L1657 479.5 L1657.7 477.6 L1658.4 475.7 L1659.1 473.8 L1659.8 472 L1660.5 470.1 L1661.2 468.2 L1661.9 466.4 L1662.6 464.5 L1663.3 462.6 L1664 460.7 L1664.7 458.9 L1665.4 457 L1666.1 455.1 L1666.8 453.2 L1667.5 451.4 L1668.2 449.5 L1668.9 447.6 L1669.6 445.8 L1670.3 443.9 L1671 442 L1671.8 440.1 L1672.5 438.3 L1673.2 436.4 L1673.9 434.5 L1674.6 432.7 L1675.3 430.8 L1676 428.9 L1676.7 427 L1677.4 425.2 L1678.1 423.3 L1678.8 421.4 L1679.6 419.6 L1680.3 417.7 L1681 415.8 L1681.7 414 L1682.4 412.1 L1683.1 410.2 L1683.8 408.4 L1684.5 406.5 L1685.2 404.6 L1686 402.7 L1686.7 400.9 L1687.4 399 L1688.1 397.1 L1688.8 395.3 L1689.5 393.4 L1690.2 391.5 L1690.9 389.7 L1691.7 387.8 L1692.4 385.9 L1693.1 384.1 L1693.8 382.2 L1694.5 380.3 L1695.2 378.5 L1695.9 376.6 L1696.6 374.7 L1697.3 372.8 L1698.1 371 L1698.8 369.1 L1699.5 367.2 L1700.2 365.4 L1700.9 363.5 L1701.6 361.6 L1702.3 359.8 L1703 357.9" fill="none" stroke="#0000ff" stroke-width="1.6" stroke-linejoin="round" stroke-linecap="round"/>
<circle cx="1150" cy="767.3" r="7.4" fill="#fff" stroke="#0000ff" stroke-width="1.3"/>
<circle cx="1243.8" cy="766.5" r="7.4" fill="#fff" stroke="#0000ff" stroke-width="1.3"/>
<circle cx="1338.4" cy="765.5" r="7.4" fill="#fff" stroke="#0000ff" stroke-width="1.3"/>
<circle cx="1433.9" cy="762.5" r="7.4" fill="#fff" stroke="#0000ff" stroke-width="1.3"/>
<circle cx="1529.1" cy="742.2" r="7.4" fill="#fff" stroke="#0000ff" stroke-width="1.3"/>
<circle cx="1623.9" cy="570.7" r="7.4" fill="#fff" stroke="#0000ff" stroke-width="1.3"/>
<path d="M1149.3 766.8 L1151.3 767.3 L1153.3 767.8 L1155.3 768 L1157.3 767.6 L1159.3 767.1 L1161.3 766.7 L1163.3 766.5 L1165.3 766.4 L1167.3 766.3 L1169.3 766.3 L1171.3 766.4 L1173.3 766.6 L1175.3 766.8 L1177.3 766.9 L1179.3 767 L1181.3 767.2 L1183.3 767.5 L1185.3 767.6 L1187.3 767.3 L1189.3 767 L1191.3 766.9 L1193.3 767 L1195.3 767.1 L1197.3 767.2 L1199.3 767.4 L1201.3 767.7 L1203.3 767.7 L1205.3 767.5 L1207.3 767.4 L1209.3 767.3 L1211.3 767.2 L1213.3 767.1 L1215.3 767.1 L1217.3 767.1 L1219.3 767.1 L1221.3 766.8 L1223.3 766.5 L1225.3 766.4 L1227.3 766.3 L1229.3 766.2 L1231.3 766.1 L1233.2 766 L1235.2 766 L1237.2 765.8 L1239.2 765.3 L1241.2 764.7 L1243.2 764.6 L1245.2 764.9 L1247.2 765.6 L1249.2 766.3 L1251.2 766.6 L1253.2 766.4 L1255.2 765.9 L1257.2 765.6 L1259.2 765.7 L1261.2 766.2 L1263.2 766.7 L1265.2 766.9 L1267.2 766.7 L1269.2 766.3 L1271.2 766 L1273.2 765.9 L1275.2 766.1 L1277.2 766.2 L1279.2 766.2 L1281.2 766.2 L1283.2 766.3 L1285.2 766.4 L1287.2 766.5 L1289.2 766.5 L1291.2 766.2 L1293.2 765.8 L1295.2 765.7 L1297.2 766 L1299.2 766.3 L1301.2 766.3 L1303.2 766.2 L1305.2 765.9 L1307.2 765.7 L1309.2 765.6 L1311.2 765.7 L1313.2 765.7 L1315.2 765.7 L1317.2 765.7 L1319.2 765.6 L1321.2 765.3 L1323.2 764.7 L1325.2 764.2 L1327.2 764 L1329.2 764.1 L1331.2 764.1 L1333.2 764 L1335.2 763.8 L1337.2 763.6 L1339.2 763.7 L1341.2 764 L1343.2 764.2 L1345.2 764.2 L1347.2 764 L1349.2 763.9 L1351.2 764.2 L1353.2 764.9 L1355.2 765.5 L1357.2 765.6 L1359.2 765.5 L1361.2 765.3 L1363.2 765.1 L1365.2 765.2 L1367.2 765.4 L1369.2 765.5 L1371.2 765.4 L1373.2 765.4 L1375.2 765.1 L1377.2 764.6 L1379.2 764 L1381.2 764 L1383.2 764.7 L1385.2 765.4 L1387.2 765.5 L1389.2 765 L1391.2 764.4 L1393.2 763.8 L1395.2 763.3 L1397.1 762.9 L1399.1 762.8 L1401.1 762.7 L1403.1 762.7 L1405.1 762.7 L1407.1 762.8 L1409.1 763.1 L1411.1 763.4 L1413.1 763.5 L1415.1 763.2 L1417.1 762.6 L1419.1 762.2 L1421.1 762.2 L1423.1 762.4 L1425.1 762.4 L1427.1 762.4 L1429.1 762.5 L1431.1 762.7 L1433.1 762.7 L1435.1 762.4 L1437.1 762.1 L1439.1 762 L1441 761.9 L1443 761.7 L1445 761.1 L1447 760.6 L1449 760 L1451 759.6 L1453 759.3 L1455 758.9 L1457 758.7 L1458.9 758.5 L1460.9 758.2 L1462.8 758 L1464.8 757.9 L1466.7 757.8 L1468.6 757.5 L1470.5 756.9 L1472.4 756.2 L1474.3 755.3 L1476.3 754.5 L1478.2 753.9 L1480.1 753.3 L1482 752.7 L1483.9 752 L1485.7 751.3 L1487.6 750.6 L1489.5 749.8 L1491.3 749 L1493.2 748.4 L1495.1 747.9 L1496.9 747.2 L1498.8 746.5 L1500.7 745.7 L1502.5 744.9 L1504.3 744.1 L1506.1 743.2 L1507.8 742.3 L1509.5 741.3 L1511.1 740.1 L1512.6 738.9 L1514.1 737.6 L1515.5 736.2 L1517 734.8 L1518.4 733.4 L1519.8 732.1 L1521.3 730.7 L1522.7 729.3 L1524.2 727.9 L1525.6 726.6 L1527.1 725.2 L1528.5 723.8 L1529.9 722.4 L1531.3 720.9 L1532.7 719.5 L1534 718 L1535.3 716.5 L1536.6 714.9 L1537.8 713.4 L1538.9 711.7 L1540 710.1 L1541 708.4 L1542.1 706.6 L1543 704.9 L1544 703.2 L1545 701.4 L1546 699.7 L1547 697.9 L1548 696.2 L1548.9 694.5 L1549.9 692.7 L1550.9 691 L1551.9 689.2 L1552.9 687.5 L1553.9 685.7 L1554.8 684 L1555.8 682.3 L1556.8 680.5 L1557.7 678.8 L1558.7 677 L1559.7 675.2 L1560.6 673.5 L1561.5 671.7 L1562.5 670 L1563.4 668.2 L1564.4 666.4 L1565.3 664.7 L1566.3 662.9 L1567.2 661.1 L1568.2 659.4 L1569.2 657.7 L1570.2 655.9 L1571.2 654.2 L1572.2 652.5 L1573.3 650.8 L1574.4 649.1 L1575.4 647.4 L1576.4 645.7 L1577.3 643.9 L1578.2 642.1 L1579 640.3 L1579.8 638.5 L1580.6 636.7 L1581.3 634.8 L1582 632.9 L1582.7 631.1 L1583.5 629.2 L1584.2 627.3 L1584.9 625.5 L1585.6 623.6 L1586.3 621.7 L1587 619.8 L1587.7 618 L1588.4 616.1 L1589.1 614.2 L1589.8 612.3 L1590.5 610.5 L1591.1 608.6 L1591.8 606.7 L1592.5 604.8 L1593.2 602.9 L1593.9 601.1 L1594.6 599.2 L1595.3 597.3 L1596 595.4 L1596.7 593.6 L1597.4 591.7 L1598.2 589.9 L1598.9 588 L1599.6 586.1 L1600.4 584.3 L1601.1 582.4 L1601.8 580.5 L1602.5 578.7 L1603.2 576.8 L1603.9 574.9 L1604.6 573 L1605.2 571.1 L1605.8 569.2 L1606.4 567.3 L1607 565.4 L1607.6 563.5 L1608.2 561.6 L1608.8 559.7 L1609.4 557.8 L1610 555.9 L1610.7 554 L1611.3 552.1 L1612 550.2 L1612.7 548.3 L1613.3 546.5 L1614 544.6 L1614.6 542.7 L1615.3 540.8 L1615.9 538.9 L1616.6 537 L1617.3 535.1 L1617.9 533.2 L1618.6 531.3 L1619.2 529.5 L1619.9 527.6 L1620.5 525.7 L1621.2 523.8 L1621.9 521.9 L1622.5 520 L1623.2 518.1 L1623.8 516.2 L1624.5 514.3 L1625.2 512.5 L1625.8 510.6 L1626.5 508.7 L1627.2 506.8 L1627.8 504.9 L1628.5 503 L1629.2 501.2 L1629.9 499.3 L1630.5 497.4 L1631.2 495.5 L1631.9 493.6 L1632.5 491.7 L1633.2 489.8 L1633.8 487.9 L1634.4 486 L1635.1 484.1 L1635.7 482.2 L1636.3 480.3 L1637 478.4 L1637.6 476.5 L1638.2 474.6 L1638.8 472.7 L1639.4 470.8 L1640.1 468.9 L1640.7 467 L1641.3 465.1 L1641.9 463.2 L1642.6 461.3 L1643.2 459.4 L1643.8 457.5 L1644.4 455.6 L1645.1 453.7 L1645.7 451.8 L1646.3 449.9 L1646.9 448 L1647.6 446.1 L1648.2 444.2 L1648.8 442.3 L1649.4 440.4 L1650.1 438.5 L1650.7 436.7 L1651.4 434.8 L1652.1 432.9 L1652.8 431 L1653.5 429.2 L1654.2 427.3 L1654.9 425.4 L1655.7 423.6 L1656.4 421.7 L1657.1 419.8 L1657.9 418 L1658.6 416.1 L1659.3 414.3 L1660.1 412.4 L1660.8 410.5 L1661.5 408.7 L1662.3 406.8 L1663 405 L1663.8 403.1 L1664.5 401.2 L1665.2 399.4 L1666 397.5 L1666.7 395.7 L1667.5 393.8 L1668.3 392 L1669.1 390.2 L1669.9 388.4 L1670.8 386.5 L1671.6 384.7 L1672.5 382.9 L1673.3 381.1 L1674.1 379.3 L1675 377.5 L1675.8 375.7 L1676.7 373.8 L1677.5 372 L1678.3 370.2 L1679.2 368.4 L1680 366.6 L1680.9 364.8 L1681.7 362.9 L1682.5 361.1 L1683.4 359.3 L1684.2 357.5" fill="none" stroke="#0000ff" stroke-width="1.6" stroke-linejoin="round" stroke-linecap="round"/>
<circle cx="1150" cy="767" r="7.4" fill="none" stroke="#0000ff" stroke-width="1.3"/><path d="M1150 759.6V774.4M1142.6 767H1157.4" stroke="#0000ff" stroke-width="1.2"/>
<circle cx="1243.8" cy="765.7" r="7.4" fill="none" stroke="#0000ff" stroke-width="1.3"/><path d="M1243.8 758.3V773.1M1236.4 765.7H1251.2" stroke="#0000ff" stroke-width="1.2"/>
<circle cx="1338.4" cy="764" r="7.4" fill="none" stroke="#0000ff" stroke-width="1.3"/><path d="M1338.4 756.6V771.4M1331 764H1345.8" stroke="#0000ff" stroke-width="1.2"/>
<circle cx="1433.9" cy="761.6" r="7.4" fill="none" stroke="#0000ff" stroke-width="1.3"/><path d="M1433.9 754.2V769M1426.5 761.6H1441.3" stroke="#0000ff" stroke-width="1.2"/>
<circle cx="1529.1" cy="723.4" r="7.4" fill="none" stroke="#0000ff" stroke-width="1.3"/><path d="M1529.1 716V730.8M1521.7 723.4H1536.5" stroke="#0000ff" stroke-width="1.2"/>
<circle cx="1623.9" cy="516" r="7.4" fill="none" stroke="#0000ff" stroke-width="1.3"/><path d="M1623.9 508.6V523.4M1616.5 516H1631.3" stroke="#0000ff" stroke-width="1.2"/>
</g>
<rect x="1149.3" y="357" width="570.4" height="432" fill="none" stroke="#000" stroke-width="3"/>
<path d="M1149.3 768.6H1158.3M1149.3 700H1158.3M1149.3 631.4H1158.3M1149.3 562.8H1158.3M1149.3 494.2H1158.3M1149.3 425.6H1158.3M1149.3 734.3H1154.3M1149.3 665.7H1154.3M1149.3 597.1H1154.3M1149.3 528.5H1154.3M1149.3 459.9H1154.3M1149.3 391.3H1154.3M1339.5 789V780M1529.6 789V780M1244.4 789V784M1434.5 789V784M1624.7 789V784" stroke="#000" stroke-width="3"/>
<g class="sans" font-size="22" fill="#000">
<text transform="translate(1140 775.5) scale(1 1.05)" text-anchor="end">0.00</text>
<text transform="translate(1140 706.9) scale(1 1.05)" text-anchor="end">0.05</text>
<text transform="translate(1140 638.3) scale(1 1.05)" text-anchor="end">0.10</text>
<text transform="translate(1140 569.7) scale(1 1.05)" text-anchor="end">0.15</text>
<text transform="translate(1140 501.1) scale(1 1.05)" text-anchor="end">0.20</text>
<text transform="translate(1140 432.5) scale(1 1.05)" text-anchor="end">0.25</text>
<text transform="translate(1140 363.9) scale(1 1.05)" text-anchor="end">0.30</text>
<text transform="translate(1149.3 816.7) scale(1 1.05)" text-anchor="middle">-6.0</text>
<text transform="translate(1339.5 816.7) scale(1 1.05)" text-anchor="middle">-5.5</text>
<text transform="translate(1529.6 816.7) scale(1 1.05)" text-anchor="middle">-5.0</text>
<text transform="translate(1719.8 816.7) scale(1 1.05)" text-anchor="middle">-4.5</text>
</g>
<text class="serif" x="1344" y="861.6" font-size="32.5">Gate Bias (V)</text>
<text class="serif" font-size="33.7" transform="translate(1083.7 734.2) rotate(-90)">Capacitance (µF/cm<tspan font-size="20.8" dy="-18.5">-2</tspan><tspan dy="18.5">)</tspan></text>
</svg></body></html>
